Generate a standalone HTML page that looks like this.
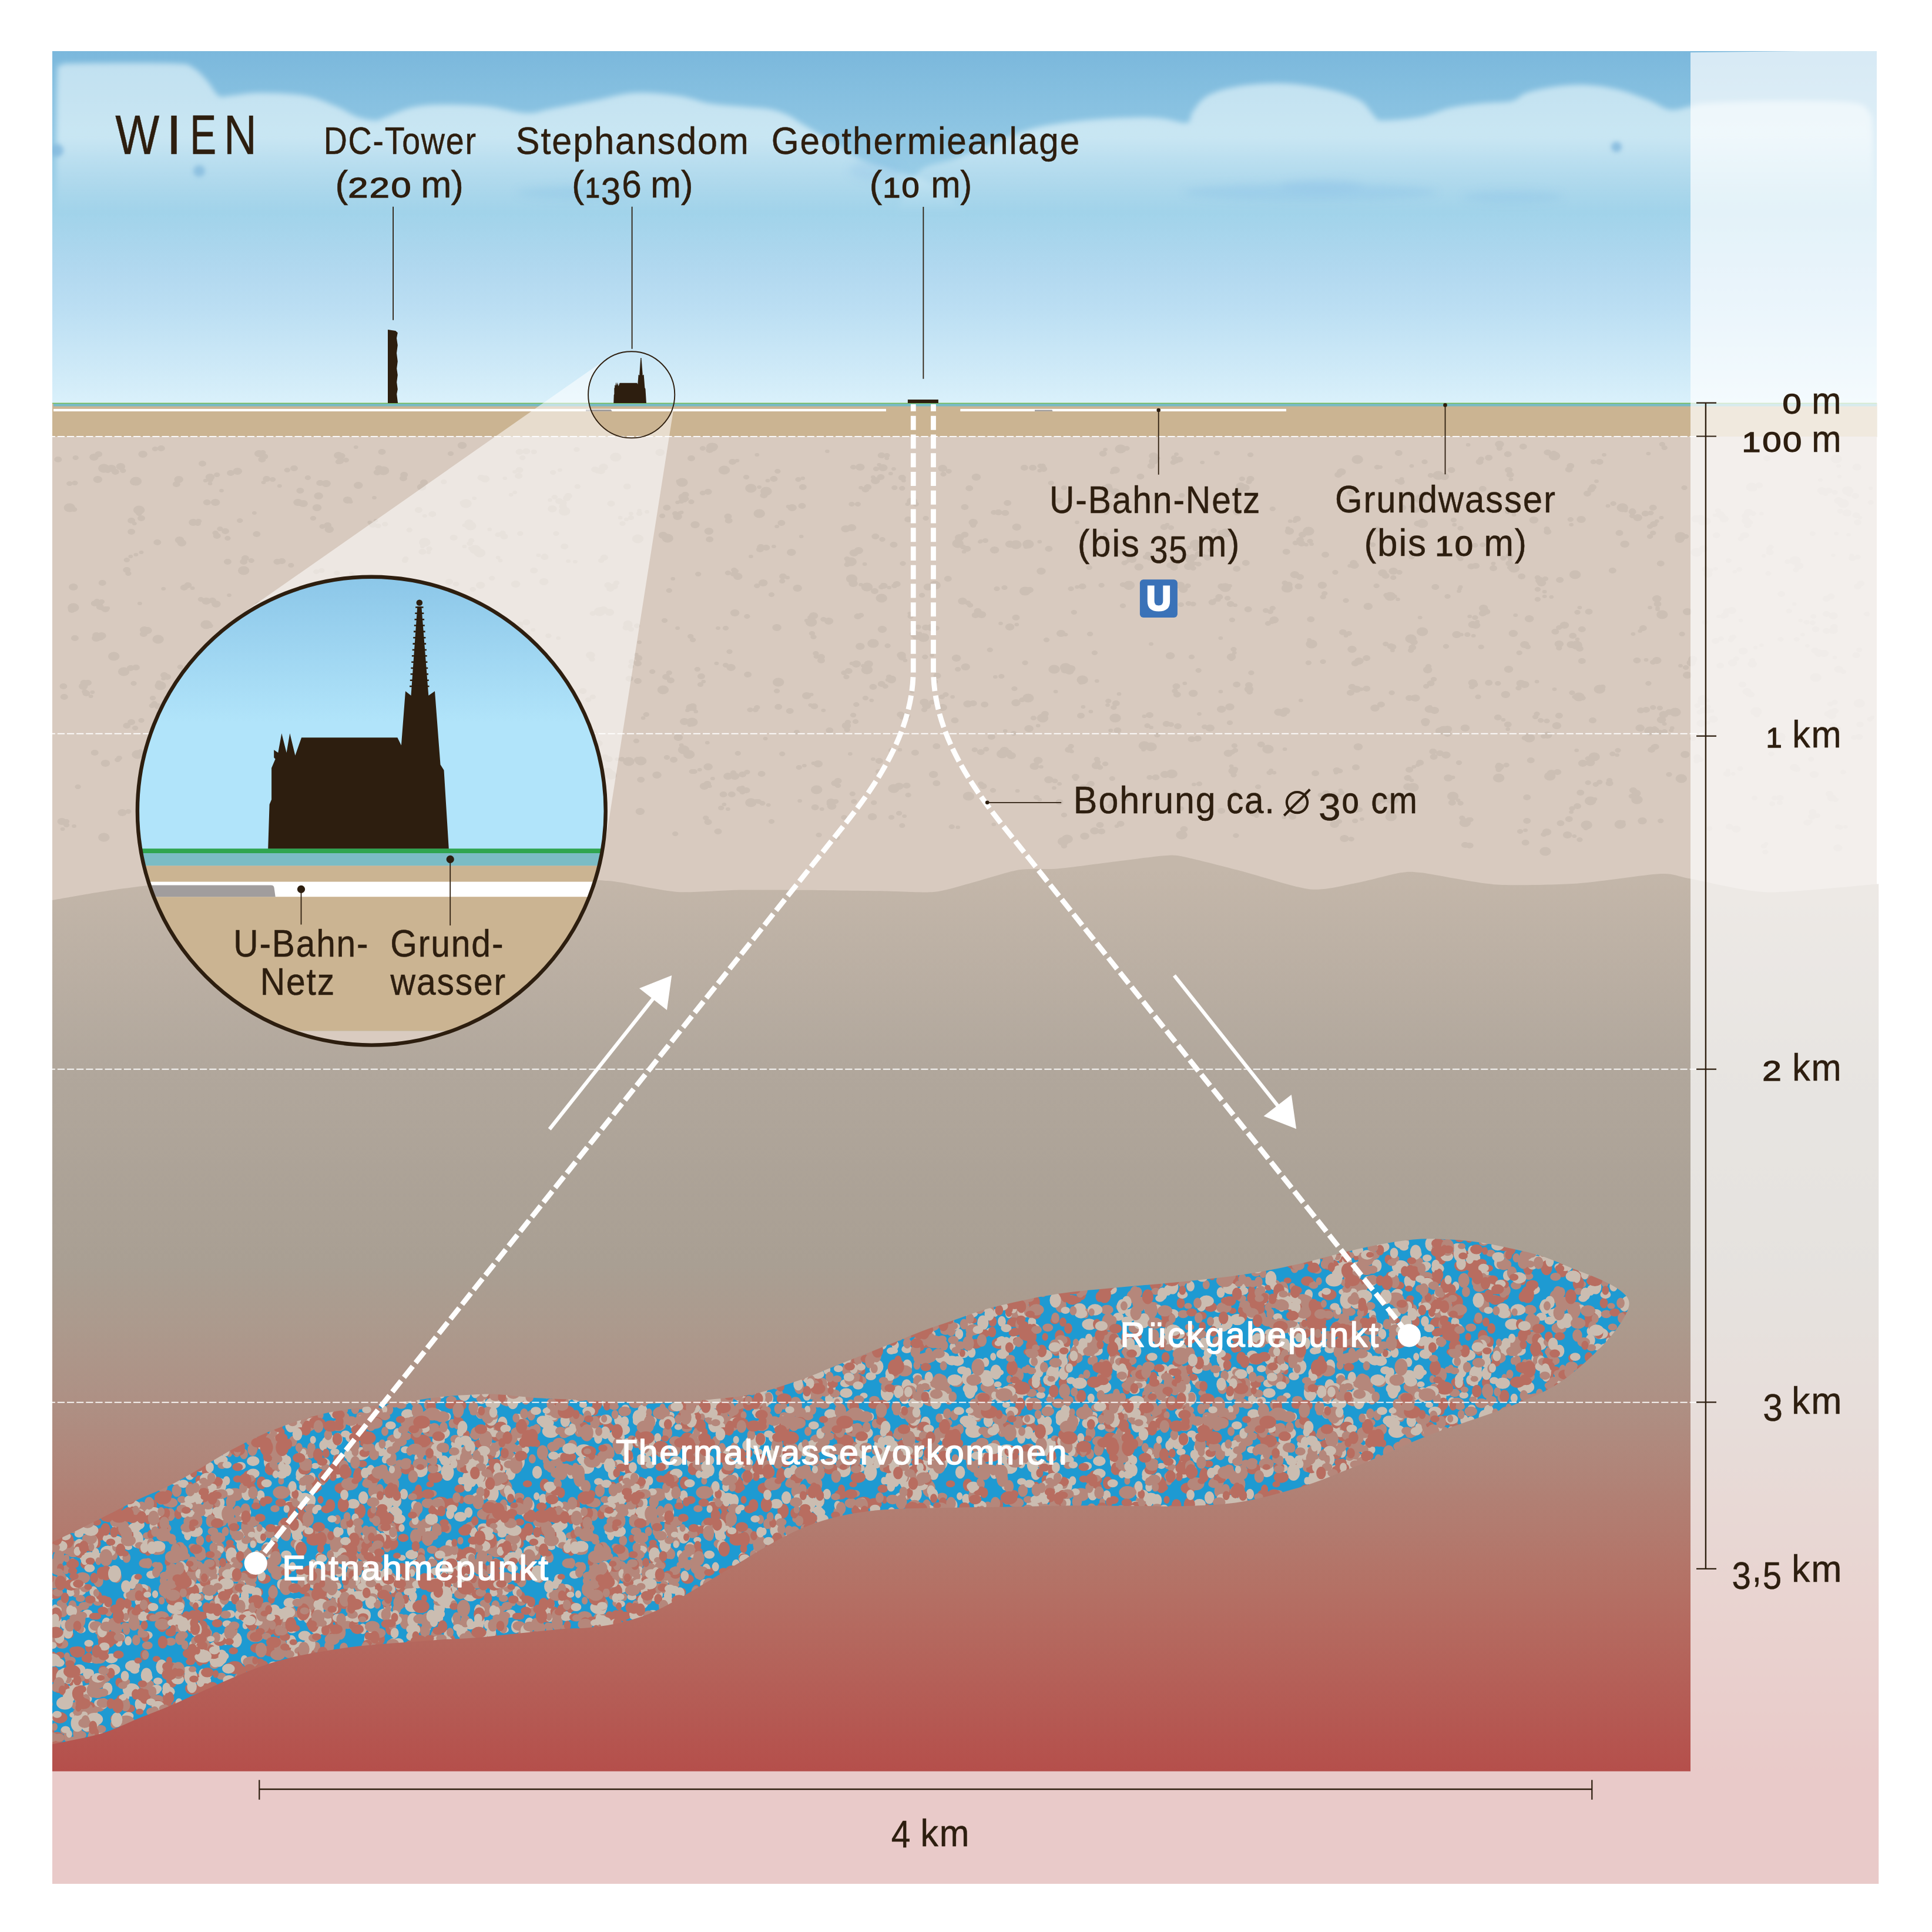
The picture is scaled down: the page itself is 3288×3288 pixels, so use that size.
<!DOCTYPE html>
<html><head><meta charset="utf-8"><title>Geothermie Wien</title><style>html,body{margin:0;padding:0;background:#fff}body{width:3288px;height:3288px;overflow:hidden;font-family:"Liberation Sans",sans-serif}</style></head><body>
<svg width="3288" height="3288" viewBox="0 0 3288 3288" style="display:block;font-family:'Liberation Sans',sans-serif"><defs><linearGradient id="gsky" gradientUnits="userSpaceOnUse" x1="0" y1="87" x2="0" y2="686"><stop offset="0" stop-color="#7bb8dc"/><stop offset=".459" stop-color="#a1d3ea"/><stop offset=".639" stop-color="#b3d9f0"/><stop offset=".741" stop-color="#bcdff3"/><stop offset=".953" stop-color="#d4edf9"/><stop offset="1" stop-color="#daf1fb"/></linearGradient><linearGradient id="gcloud" gradientUnits="userSpaceOnUse" x1="0" y1="100" x2="0" y2="362"><stop offset="0" stop-color="#f6ffff" stop-opacity=".56"/><stop offset=".5076" stop-color="#f6ffff" stop-opacity=".56"/><stop offset="1" stop-color="#f6ffff" stop-opacity="0"/></linearGradient><linearGradient id="gl2" gradientUnits="userSpaceOnUse" x1="0" y1="1480" x2="0" y2="3014"><stop offset="0" stop-color="#c4b7aa"/><stop offset=".2216" stop-color="#b1a79c"/><stop offset=".4368" stop-color="#a99f93"/><stop offset=".5046" stop-color="#ac9a8d"/><stop offset=".5906" stop-color="#ae9084"/><stop offset=".7953" stop-color="#b47165"/><stop offset="1" stop-color="#b54f4b"/></linearGradient><linearGradient id="gbig" gradientUnits="userSpaceOnUse" x1="0" y1="978" x2="0" y2="1230"><stop offset="0" stop-color="#8bc6e8"/><stop offset="1" stop-color="#b1e4fa"/></linearGradient><filter id="fblur" x="-5%" y="-20%" width="110%" height="140%"><feGaussianBlur stdDeviation="5"/></filter><filter id="fblur2" x="-20%" y="-100%" width="140%" height="300%"><feGaussianBlur stdDeviation="7"/></filter><filter id="fblur3" x="-50%" y="-50%" width="200%" height="200%"><feGaussianBlur stdDeviation="3.5"/></filter><clipPath id="cpsky"><rect x="89" y="87" width="3105" height="599"/></clipPath><clipPath id="cpl1"><rect x="89" y="743" width="3105" height="800"/></clipPath><clipPath id="cpframe"><rect x="89" y="87" width="3108.5" height="3119"/></clipPath><clipPath id="cpbig"><circle cx="632.3" cy="1380.2" r="398.4"/></clipPath><pattern id="pres" patternUnits="userSpaceOnUse" x="0" y="0" width="720" height="720"><rect width="720" height="720" fill="#1e9ad2"/><path transform="scale(1.2,0.92)" d="M242 76h0M481 615h0M178 260h0M93 511h0M88 232h0M218 191h0M226 356h0M287 256h0M439 229h0M-10 542h0M590 542h0M205 335h0M224 352h0M25 234h0M179 59h0M235 689h0" stroke="#cbbdb1" stroke-width="11" stroke-linecap="round" fill="none"/><path transform="scale(0.92,1.2)" d="M315 33h0M717 466h0M210 322h0M695 139h0M475 404h0M46 209h0M117 307h0M70 300h0M454 505h0M734 23h0M260 463h0M384 283h0" stroke="#cbbdb1" stroke-width="11" stroke-linecap="round" fill="none"/><path transform="scale(1.2,0.92)" d="M101 199h0M85 630h0M210 504h0M275 693h0M218 66h0M450 604h0M29 351h0M146 453h0M249 393h0M177 9h0M177 792h0M110 3h0M110 785h0M503 290h0M238 129h0M37 536h0M585 127h0M319 206h0M40 362h0M276 233h0M182 52h0M575 334h0M446 585h0M108 60h0M419 432h0M506 602h0M309 152h0M523 373h0M286 324h0M528 74h0M180 621h0M457 190h0M584 593h0M502 539h0M270 433h0" stroke="#cbbdb1" stroke-width="13" stroke-linecap="round" fill="none"/><path transform="scale(0.92,1.2)" d="M558 394h0M558 213h0M642 285h0M434 239h0M424 217h0M145 46h0M447 375h0M140 453h0M537 567h0M258 132h0M452 554h0M414 469h0M294 307h0M-7 216h0M776 216h0M477 141h0M695 472h0M339 436h0M256 471h0M91 108h0M619 199h0M-11 222h0M772 222h0M498 403h0M646 158h0" stroke="#cbbdb1" stroke-width="13" stroke-linecap="round" fill="none"/><path transform="scale(1.2,0.92)" d="M-1 211h0M599 211h0M67 659h0M548 -7h0M548 775h0M437 459h0M285 686h0M35 198h0M560 446h0M381 138h0M86 148h0M588 243h0M177 633h0M529 565h0M441 205h0M414 666h0M428 713h0M135 275h0M343 635h0M165 187h0M197 347h0M277 360h0M487 604h0M475 630h0M166 157h0M252 227h0M124 637h0M14 156h0M41 593h0M386 88h0M403 81h0M265 485h0M473 598h0M93 370h0M554 289h0M483 249h0M238 -0h0M238 782h0M-11 36h0M589 36h0M486 750h0M19 368h0M267 742h0M532 490h0M422 495h0M547 425h0M220 -3h0M220 779h0M575 617h0M1 118h0M601 118h0" stroke="#cbbdb1" stroke-width="15" stroke-linecap="round" fill="none"/><path transform="scale(0.92,1.2)" d="M173 457h0M407 112h0M559 57h0M381 585h0M334 508h0M483 217h0M627 429h0M598 250h0M-9 268h0M774 268h0M222 326h0M399 439h0M157 368h0M602 568h0M440 9h0M440 609h0M569 495h0M91 274h0M228 78h0M7 508h0M789 508h0M314 165h0M529 66h0M671 510h0M113 448h0M464 160h0M591 409h0M705 258h0M228 484h0M60 45h0M42 45h0M236 385h0M73 36h0M338 189h0M392 487h0M536 150h0M232 118h0M93 373h0M698 293h0M542 452h0M520 447h0M135 260h0M213 360h0M58 420h0M693 33h0M506 538h0M344 75h0M401 385h0M648 267h0M112 284h0" stroke="#cbbdb1" stroke-width="15" stroke-linecap="round" fill="none"/><path transform="scale(1.2,0.92)" d="M355 151h0M183 416h0M476 371h0M42 186h0M403 656h0M118 121h0M372 325h0M329 593h0M158 720h0M22 638h0M49 355h0M158 170h0M286 367h0M196 473h0M71 602h0M113 595h0M122 533h0M189 174h0M137 73h0M438 99h0M463 83h0M281 590h0M204 235h0M203 642h0M189 639h0M86 479h0M89 576h0M35 552h0M375 38h0M578 268h0M430 345h0M-0 229h0M600 229h0M392 349h0" stroke="#cbbdb1" stroke-width="18" stroke-linecap="round" fill="none"/><path transform="scale(0.92,1.2)" d="M180 542h0M685 76h0M575 1h0M575 601h0M556 291h0M537 116h0M197 335h0M594 101h0M356 145h0M417 524h0M351 290h0M695 436h0M149 276h0M481 145h0M494 128h0M746 444h0M401 131h0M483 188h0M127 255h0M525 270h0M475 484h0M213 390h0M639 183h0" stroke="#cbbdb1" stroke-width="18" stroke-linecap="round" fill="none"/><path transform="scale(1.2,0.92)" d="M136 162h0M273 456h0M54 359h0M555 93h0M270 170h0M175 284h0M18 269h0M527 -2h0M527 781h0M36 617h0M299 570h0M432 424h0M478 524h0M188 734h0M-4 372h0M596 372h0M160 741h0M67 604h0M38 542h0M247 39h0" stroke="#cbbdb1" stroke-width="21" stroke-linecap="round" fill="none"/><path transform="scale(0.92,1.2)" d="M428 114h0M229 173h0M587 145h0M20 137h0M669 461h0M378 250h0M72 513h0M510 580h0M686 471h0M410 550h0M396 539h0M5 365h0M788 365h0M489 571h0M696 127h0" stroke="#cbbdb1" stroke-width="21" stroke-linecap="round" fill="none"/><path transform="scale(1.2,0.92)" d="M92 20h0M512 341h0M403 645h0M181 300h0M274 311h0M68 384h0M328 602h0M26 303h0M271 431h0" stroke="#cbbdb1" stroke-width="24" stroke-linecap="round" fill="none"/><path transform="scale(0.92,1.2)" d="M46 86h0M500 273h0M510 236h0M751 168h0M697 585h0M550 -8h0M550 592h0M45 288h0M76 175h0M128 318h0" stroke="#cbbdb1" stroke-width="24" stroke-linecap="round" fill="none"/><path transform="scale(1.2,0.92)" d="M366 276h0M582 736h0M296 313h0M201 663h0M539 439h0M203 365h0M501 649h0M267 451h0M335 155h0M505 229h0M465 747h0M418 69h0M126 618h0M430 698h0M261 286h0M234 217h0M502 217h0" stroke="#b5877b" stroke-width="11" stroke-linecap="round" fill="none"/><path transform="scale(0.92,1.2)" d="M288 37h0M387 516h0M759 37h0M521 429h0M227 272h0M474 330h0M41 436h0M597 469h0M443 64h0M584 465h0M170 58h0M118 532h0M520 300h0M719 263h0M195 407h0M180 174h0M435 154h0M527 514h0M302 156h0M386 551h0" stroke="#b5877b" stroke-width="11" stroke-linecap="round" fill="none"/><path transform="scale(1.2,0.92)" d="M319 54h0M108 324h0M304 733h0M314 753h0M567 359h0M69 324h0M50 290h0M269 360h0M443 28h0M104 143h0M128 365h0M294 677h0M446 489h0M167 665h0M68 2h0M68 785h0M209 493h0M263 531h0M568 79h0M436 67h0M432 86h0M368 13h0M368 796h0M512 271h0M516 545h0M493 587h0M406 278h0M84 482h0M481 616h0M484 654h0M235 52h0M334 572h0M278 549h0M84 45h0" stroke="#b5877b" stroke-width="13" stroke-linecap="round" fill="none"/><path transform="scale(0.92,1.2)" d="M248 307h0M-8 476h0M774 476h0M-2 544h0M781 544h0M-12 6h0M-12 606h0M771 6h0M771 606h0M234 383h0M624 355h0M417 372h0M382 327h0M384 535h0M275 -7h0M275 593h0M244 210h0M302 442h0M163 278h0M629 209h0M-8 582h0M774 582h0M-2 54h0M781 54h0M208 405h0M195 541h0M312 68h0M196 515h0M411 343h0M751 449h0M524 520h0M723 562h0M153 118h0M554 178h0M763 427h0M33 473h0M575 262h0M453 209h0M761 96h0M12 269h0M795 269h0M131 136h0M705 444h0M637 409h0M429 182h0M402 343h0M54 219h0M397 247h0M-3 402h0M779 402h0M579 217h0M260 389h0M666 22h0M698 475h0M362 399h0M438 260h0M141 84h0M375 304h0M211 406h0M542 329h0" stroke="#b5877b" stroke-width="13" stroke-linecap="round" fill="none"/><path transform="scale(1.2,0.92)" d="M374 294h0M568 645h0M430 337h0M263 229h0M136 421h0M45 566h0M127 350h0M569 251h0M107 510h0M243 551h0M533 73h0M522 8h0M522 791h0M14 494h0M69 596h0M322 163h0M191 355h0M238 432h0M396 751h0M10 131h0M610 131h0M485 125h0M138 447h0M431 476h0M483 665h0M341 456h0M162 141h0M139 615h0M478 83h0M545 740h0M513 580h0M390 70h0M94 110h0M575 715h0M543 478h0M325 519h0M451 664h0M253 555h0M143 68h0M568 82h0M507 496h0M285 530h0M490 604h0M36 117h0M386 341h0M109 25h0" stroke="#b5877b" stroke-width="15" stroke-linecap="round" fill="none"/><path transform="scale(0.92,1.2)" d="M320 65h0M215 388h0M155 187h0M595 276h0M274 417h0M149 334h0M481 206h0M210 227h0M569 196h0M113 105h0M272 456h0M284 225h0M113 320h0M657 437h0M509 432h0M576 253h0M140 458h0M686 408h0M232 15h0M22 519h0M9 192h0M791 192h0M8 134h0M790 134h0M726 267h0M746 -4h0M746 596h0M27 468h0M583 472h0M469 504h0M724 292h0M621 18h0M685 103h0M720 199h0M-4 286h0M779 286h0M451 262h0M230 278h0M629 144h0M646 435h0M16 252h0M55 400h0M187 520h0M679 445h0M12 110h0M795 110h0M63 78h0M157 98h0M636 537h0M200 207h0M249 305h0M307 135h0M72 167h0M325 507h0M127 360h0M400 418h0M647 365h0M489 420h0M350 499h0M516 260h0" stroke="#b5877b" stroke-width="15" stroke-linecap="round" fill="none"/><path transform="scale(1.2,0.92)" d="M446 135h0M157 209h0M138 2h0M138 784h0M517 531h0M401 367h0M287 397h0M552 569h0M27 52h0M559 211h0M20 206h0M206 544h0M407 653h0M100 330h0M430 465h0M7 28h0M607 28h0M131 138h0M403 169h0M279 548h0M97 519h0M346 635h0M568 319h0M259 76h0M209 372h0M21 55h0M429 180h0M301 248h0M193 321h0M558 315h0M510 179h0M51 253h0M88 693h0M560 247h0M106 98h0M140 27h0M234 479h0M121 345h0M282 521h0" stroke="#b5877b" stroke-width="18" stroke-linecap="round" fill="none"/><path transform="scale(0.92,1.2)" d="M315 348h0M111 178h0M502 208h0M194 86h0M133 159h0M721 375h0M123 225h0M-14 345h0M768 345h0M340 215h0M626 193h0M720 176h0M97 233h0M419 249h0M153 157h0M88 147h0M430 360h0M454 402h0M602 376h0M739 163h0M540 312h0M628 550h0M654 504h0M528 39h0M711 448h0M463 443h0M289 229h0M1 143h0M784 143h0M690 315h0M216 436h0M182 442h0" stroke="#b5877b" stroke-width="18" stroke-linecap="round" fill="none"/><path transform="scale(1.2,0.92)" d="M229 643h0M112 214h0M328 152h0M208 -14h0M208 769h0M405 472h0M428 725h0M201 218h0M107 584h0M223 518h0M185 63h0M106 478h0M434 282h0M87 453h0M366 199h0M11 158h0M611 158h0M501 472h0M51 58h0" stroke="#b5877b" stroke-width="21" stroke-linecap="round" fill="none"/><path transform="scale(0.92,1.2)" d="M750 500h0M664 447h0M84 404h0M627 120h0M318 150h0M413 350h0M103 523h0M733 288h0M111 397h0M686 219h0M289 298h0M91 144h0M74 436h0M703 19h0M687 375h0M356 418h0M392 434h0M262 340h0" stroke="#b5877b" stroke-width="21" stroke-linecap="round" fill="none"/><path transform="scale(1.2,0.92)" d="M95 300h0M247 565h0M238 300h0M47 58h0M443 736h0M528 538h0M333 417h0M138 764h0M362 678h0M418 63h0M383 329h0M11 298h0M611 298h0M90 383h0M222 17h0M399 413h0" stroke="#b5877b" stroke-width="24" stroke-linecap="round" fill="none"/><path transform="scale(0.92,1.2)" d="M153 311h0M529 450h0M458 365h0M149 7h0M149 607h0M256 287h0M8 499h0M791 499h0M614 424h0M622 389h0M336 402h0M104 421h0M352 439h0" stroke="#b5877b" stroke-width="24" stroke-linecap="round" fill="none"/><path transform="scale(1.2,0.92)" d="M548 77h0M288 696h0M26 21h0M228 288h0M307 609h0M7 298h0M607 298h0M284 423h0M460 377h0M301 315h0M200 54h0M369 726h0M196 724h0M222 721h0M345 144h0M224 20h0M237 22h0M-1 34h0M599 34h0M21 486h0M422 204h0M555 148h0M396 153h0M328 57h0" stroke="#b86d60" stroke-width="11" stroke-linecap="round" fill="none"/><path transform="scale(0.92,1.2)" d="M311 381h0M161 582h0M211 247h0M91 362h0M386 382h0M481 458h0M729 460h0M430 396h0M31 512h0M303 77h0M559 126h0M557 341h0M141 99h0M99 444h0M193 232h0M648 432h0M402 0h0M402 600h0M677 10h0M677 610h0" stroke="#b86d60" stroke-width="11" stroke-linecap="round" fill="none"/><path transform="scale(1.2,0.92)" d="M296 95h0M137 468h0M112 139h0M541 412h0M420 283h0M568 592h0M132 442h0M353 731h0M237 426h0M289 425h0M85 714h0M46 90h0M25 450h0M450 660h0M20 295h0M62 550h0M243 132h0M76 758h0M501 579h0M360 331h0M221 449h0M427 440h0M258 153h0M502 651h0M238 741h0M313 593h0" stroke="#b86d60" stroke-width="13" stroke-linecap="round" fill="none"/><path transform="scale(0.92,1.2)" d="M96 129h0M586 200h0M578 542h0M537 582h0M626 201h0M346 341h0M123 354h0M728 366h0M353 510h0M398 558h0M274 400h0M401 75h0M364 580h0M63 209h0M279 376h0M164 537h0M272 481h0M51 347h0M502 468h0M483 478h0M312 267h0M393 347h0M3 575h0M786 575h0M140 583h0M333 433h0M589 217h0M14 251h0M796 251h0M732 320h0M82 555h0" stroke="#b86d60" stroke-width="13" stroke-linecap="round" fill="none"/><path transform="scale(1.2,0.92)" d="M349 465h0M576 372h0M565 466h0M264 111h0M95 344h0M426 263h0M184 30h0M127 25h0M518 322h0M69 107h0M39 39h0M560 751h0M21 669h0M475 121h0M368 271h0M379 427h0M381 158h0M455 533h0M453 3h0M453 786h0M215 644h0M263 292h0M168 713h0M237 416h0M198 627h0M283 712h0M504 86h0M14 366h0M-6 496h0M594 496h0M406 559h0M543 441h0M337 547h0M70 584h0M500 574h0M105 311h0M581 212h0M115 138h0M68 694h0M445 271h0M81 324h0M65 702h0M572 497h0" stroke="#b86d60" stroke-width="15" stroke-linecap="round" fill="none"/><path transform="scale(0.92,1.2)" d="M507 220h0M303 45h0M604 430h0M716 477h0M136 276h0M401 161h0M519 170h0M588 576h0M98 550h0M643 288h0M621 -11h0M621 589h0M223 11h0M223 611h0M370 555h0M534 481h0M595 151h0M124 178h0M41 53h0M269 472h0M243 486h0M469 39h0M345 57h0M116 317h0M75 77h0M636 142h0M135 279h0M408 103h0M252 341h0M425 396h0M619 48h0M255 317h0M283 334h0M179 331h0M609 504h0M145 588h0M622 276h0M267 547h0M411 84h0M495 197h0" stroke="#b86d60" stroke-width="15" stroke-linecap="round" fill="none"/><path transform="scale(1.2,0.92)" d="M369 318h0M208 347h0M133 494h0M238 98h0M368 491h0M312 688h0M10 686h0M610 686h0M364 701h0M459 22h0M267 209h0M210 624h0M250 280h0M268 711h0M-8 417h0M592 417h0M578 135h0M78 601h0M488 600h0M538 594h0M534 537h0M526 530h0M375 573h0" stroke="#b86d60" stroke-width="18" stroke-linecap="round" fill="none"/><path transform="scale(0.92,1.2)" d="M703 524h0M722 510h0M484 303h0M519 256h0M517 152h0M717 13h0M389 114h0M412 208h0M735 542h0M435 35h0M471 565h0M559 351h0M245 194h0M222 522h0M513 512h0M479 -1h0M479 599h0M380 520h0M625 161h0M45 457h0M29 404h0M395 95h0M590 444h0M108 -8h0M108 592h0M140 574h0M662 293h0M22 157h0M429 414h0M623 480h0M438 254h0M751 40h0M51 527h0" stroke="#b86d60" stroke-width="18" stroke-linecap="round" fill="none"/><path transform="scale(1.2,0.92)" d="M51 754h0M445 501h0M383 706h0M485 405h0M587 666h0M302 54h0M417 706h0M22 60h0M18 446h0M586 283h0" stroke="#b86d60" stroke-width="21" stroke-linecap="round" fill="none"/><path transform="scale(0.92,1.2)" d="M126 385h0M474 585h0M373 537h0M190 538h0M685 398h0M572 20h0M78 585h0M300 504h0M511 499h0M668 225h0M15 110h0M798 110h0M666 343h0M111 377h0M583 307h0M497 263h0M138 584h0M90 56h0" stroke="#b86d60" stroke-width="21" stroke-linecap="round" fill="none"/><path transform="scale(1.2,0.92)" d="M257 566h0M553 508h0M442 3h0M442 785h0M151 689h0M516 508h0M25 433h0M176 482h0M257 349h0" stroke="#b86d60" stroke-width="24" stroke-linecap="round" fill="none"/><path transform="scale(0.92,1.2)" d="M109 384h0M300 356h0M80 67h0M478 36h0M499 507h0M562 449h0" stroke="#b86d60" stroke-width="24" stroke-linecap="round" fill="none"/><path transform="scale(1.2,0.92)" d="M132 508h0M430 480h0M68 151h0M389 501h0M558 48h0M550 625h0M336 133h0M104 42h0M178 269h0M185 274h0M472 181h0M442 71h0M95 296h0M182 514h0M224 302h0M215 213h0M483 132h0M88 17h0M79 -7h0M79 775h0" stroke="#cbbdb1" stroke-width="11" stroke-linecap="round" fill="none"/><path transform="scale(0.92,1.2)" d="M316 44h0M276 62h0M354 191h0M197 110h0M67 440h0M40 554h0M542 314h0M272 124h0M225 62h0M561 260h0M580 556h0M711 199h0M401 427h0M762 431h0M579 242h0M16 413h0M147 285h0M685 148h0M712 270h0" stroke="#cbbdb1" stroke-width="11" stroke-linecap="round" fill="none"/><path transform="scale(1.2,0.92)" d="M299 464h0M508 624h0M325 279h0M22 646h0M155 106h0M575 86h0M64 151h0M9 103h0M609 103h0M579 597h0M512 277h0M76 46h0M296 606h0M191 742h0M286 671h0M130 722h0M8 157h0M608 157h0M322 656h0M370 699h0M411 -5h0M411 778h0M28 57h0M260 597h0M424 419h0M132 37h0M350 270h0M517 722h0M490 305h0M-11 184h0M589 184h0M104 753h0M519 546h0M482 356h0" stroke="#cbbdb1" stroke-width="13" stroke-linecap="round" fill="none"/><path transform="scale(0.92,1.2)" d="M384 584h0M556 492h0M220 529h0M347 378h0M718 145h0M569 13h0M183 164h0M128 16h0M510 369h0M560 309h0M276 225h0M688 514h0M541 422h0M387 141h0M59 497h0M301 63h0M602 245h0M446 352h0M458 345h0M191 65h0M737 448h0M181 465h0M353 316h0M402 271h0M225 146h0M193 74h0M4 254h0M786 254h0M316 57h0M130 457h0M738 128h0M179 238h0M656 382h0M431 418h0M23 54h0M551 -8h0M551 592h0M747 143h0M451 439h0M231 37h0M45 518h0M-12 511h0M771 511h0M334 270h0M767 335h0M386 313h0M339 447h0M119 504h0" stroke="#cbbdb1" stroke-width="13" stroke-linecap="round" fill="none"/><path transform="scale(1.2,0.92)" d="M93 218h0M4 199h0M604 199h0M202 509h0M215 565h0M540 433h0M270 455h0M305 282h0M18 343h0M48 354h0M258 108h0M533 518h0M563 450h0M99 468h0M133 58h0M203 590h0M217 625h0M310 682h0M155 557h0M166 501h0M244 236h0M317 445h0M346 594h0M326 638h0M335 594h0M410 436h0M442 282h0M205 116h0M270 159h0M227 109h0M477 47h0M423 720h0M529 598h0M288 340h0M481 -12h0M481 771h0M182 44h0M-2 376h0M598 376h0M18 559h0M130 40h0M127 218h0M467 313h0M451 239h0M126 747h0M563 40h0M505 759h0M341 364h0M148 698h0M498 186h0M223 452h0M209 677h0" stroke="#cbbdb1" stroke-width="15" stroke-linecap="round" fill="none"/><path transform="scale(0.92,1.2)" d="M482 321h0M693 331h0M749 568h0M310 457h0M23 37h0M241 200h0M274 290h0M373 216h0M49 391h0M410 218h0M338 89h0M401 121h0M665 129h0M436 115h0M710 179h0M584 7h0M584 607h0M716 262h0M484 435h0M751 184h0M332 61h0M644 463h0M384 432h0M324 275h0M157 314h0M579 492h0M316 231h0M324 240h0M618 204h0M39 436h0M702 47h0M486 495h0M137 97h0M764 464h0M747 319h0" stroke="#cbbdb1" stroke-width="15" stroke-linecap="round" fill="none"/><path transform="scale(1.2,0.92)" d="M432 678h0M26 145h0M266 109h0M178 81h0M459 358h0M566 462h0M184 603h0M7 55h0M607 55h0M306 582h0M499 312h0M71 372h0M256 39h0M564 -3h0M564 780h0M190 437h0M585 666h0M553 325h0M40 154h0M48 563h0M18 586h0M141 534h0M512 579h0M22 316h0M584 128h0M407 81h0M107 400h0M501 434h0M384 141h0M50 736h0" stroke="#cbbdb1" stroke-width="18" stroke-linecap="round" fill="none"/><path transform="scale(0.92,1.2)" d="M161 320h0M406 201h0M223 155h0M296 105h0M494 396h0M113 137h0M67 105h0M393 4h0M393 604h0M337 232h0M711 153h0M288 104h0M147 218h0M677 491h0M263 215h0M405 212h0M408 315h0M625 241h0M211 288h0M15 492h0M797 492h0M519 47h0M492 495h0M46 407h0M-0 127h0M783 127h0M112 270h0M629 168h0M539 528h0M475 460h0M715 2h0M715 602h0M106 203h0M555 537h0M575 328h0" stroke="#cbbdb1" stroke-width="18" stroke-linecap="round" fill="none"/><path transform="scale(1.2,0.92)" d="M232 368h0M116 446h0M185 202h0M198 197h0M585 624h0M510 636h0M282 159h0M50 579h0M153 522h0M470 119h0M120 362h0M345 102h0M140 334h0M99 248h0M85 512h0M395 638h0M486 611h0" stroke="#cbbdb1" stroke-width="21" stroke-linecap="round" fill="none"/><path transform="scale(0.92,1.2)" d="M119 576h0M396 5h0M396 605h0M548 542h0M253 76h0M407 471h0M260 17h0M538 221h0M501 204h0M563 437h0M653 473h0M33 443h0M30 480h0M437 526h0M398 554h0M366 324h0M534 499h0M284 178h0M110 302h0M299 564h0M258 350h0M271 576h0M387 298h0M383 341h0M147 393h0" stroke="#cbbdb1" stroke-width="21" stroke-linecap="round" fill="none"/><path transform="scale(1.2,0.92)" d="M562 746h0M364 218h0M338 142h0M59 554h0M186 -4h0M186 778h0M217 452h0M228 336h0" stroke="#cbbdb1" stroke-width="24" stroke-linecap="round" fill="none"/><path transform="scale(0.92,1.2)" d="M548 366h0M253 383h0M315 44h0M618 563h0M405 552h0M503 192h0M115 244h0" stroke="#cbbdb1" stroke-width="24" stroke-linecap="round" fill="none"/><path transform="scale(1.2,0.92)" d="M217 468h0M124 379h0M104 625h0M112 628h0M135 33h0M31 334h0M45 53h0M509 277h0M339 78h0M140 671h0M239 349h0M376 543h0M358 584h0" stroke="#b5877b" stroke-width="11" stroke-linecap="round" fill="none"/><path transform="scale(0.92,1.2)" d="M593 207h0M664 429h0M607 423h0M130 294h0M424 261h0M659 407h0M473 133h0M19 359h0M22 369h0M519 131h0M124 549h0M604 146h0M134 415h0M169 174h0M449 239h0M596 -3h0M596 597h0M459 133h0M585 450h0M507 415h0M702 389h0" stroke="#b5877b" stroke-width="11" stroke-linecap="round" fill="none"/><path transform="scale(1.2,0.92)" d="M315 469h0M581 7h0M581 790h0M397 215h0M124 378h0M520 271h0M462 367h0M114 609h0M127 93h0M312 330h0M186 359h0M65 697h0M362 674h0M570 229h0M92 71h0M127 206h0M309 409h0M74 126h0M198 511h0M30 328h0M246 734h0M366 547h0M132 758h0M234 32h0M561 54h0M487 107h0M498 516h0M474 218h0M261 584h0M60 27h0" stroke="#b5877b" stroke-width="13" stroke-linecap="round" fill="none"/><path transform="scale(0.92,1.2)" d="M311 500h0M144 85h0M49 119h0M130 278h0M716 395h0M422 124h0M152 92h0M110 295h0M348 131h0M50 515h0M381 525h0M674 74h0M343 116h0M508 288h0M267 162h0M119 469h0M57 476h0M553 253h0M102 -7h0M102 593h0M590 562h0M616 118h0M122 426h0M211 45h0M369 202h0M200 434h0M730 441h0M106 170h0M83 519h0M527 507h0M357 335h0M-5 247h0M777 247h0M472 377h0M292 231h0M572 309h0M15 550h0M797 550h0M506 232h0" stroke="#b5877b" stroke-width="13" stroke-linecap="round" fill="none"/><path transform="scale(1.2,0.92)" d="M59 207h0M302 485h0M141 114h0M476 516h0M576 357h0M234 567h0M383 372h0M514 586h0M486 261h0M13 94h0M371 258h0M524 185h0M121 590h0M425 706h0M546 272h0M315 242h0M378 623h0M528 607h0M550 386h0M242 689h0M556 335h0M480 162h0M260 330h0M142 722h0M149 757h0M119 623h0M555 191h0M440 627h0M22 615h0M320 639h0M502 214h0M121 333h0M291 349h0M576 309h0M55 368h0M41 355h0M577 168h0M319 560h0M336 549h0M13 519h0M463 764h0M100 724h0M531 462h0M378 516h0M471 677h0M462 670h0M255 664h0M118 384h0M535 270h0M322 551h0M357 130h0M472 252h0M392 344h0M393 351h0M23 111h0M27 102h0" stroke="#b5877b" stroke-width="15" stroke-linecap="round" fill="none"/><path transform="scale(0.92,1.2)" d="M43 133h0M671 392h0M301 44h0M718 315h0M371 436h0M370 385h0M132 126h0M302 230h0M47 -2h0M47 598h0M400 522h0M558 170h0M512 428h0M142 488h0M45 75h0M458 214h0M460 440h0M728 378h0M597 504h0M218 78h0M700 151h0M358 495h0M45 367h0M585 536h0M468 438h0M125 63h0M558 220h0M726 505h0M201 485h0M382 18h0M481 135h0M701 204h0M-5 262h0M778 262h0M432 513h0M236 313h0M734 482h0M396 13h0M215 517h0M540 33h0M289 430h0M97 518h0M2 63h0M785 63h0M439 343h0M131 103h0M542 244h0M733 252h0M298 397h0M347 358h0M639 182h0M439 30h0M657 198h0M435 453h0M360 423h0" stroke="#b5877b" stroke-width="15" stroke-linecap="round" fill="none"/><path transform="scale(1.2,0.92)" d="M282 443h0M323 35h0M251 644h0M384 324h0M405 208h0M94 335h0M100 116h0M289 665h0M441 443h0M243 81h0M-2 97h0M598 97h0M118 244h0M380 648h0M114 44h0M382 519h0M421 508h0M104 524h0M345 152h0M433 359h0M76 515h0M311 20h0M305 131h0M438 291h0M53 601h0M60 111h0M530 709h0M502 120h0M370 75h0M240 603h0M7 328h0M607 328h0M474 581h0M82 674h0" stroke="#b5877b" stroke-width="18" stroke-linecap="round" fill="none"/><path transform="scale(0.92,1.2)" d="M327 314h0M232 18h0M295 49h0M298 325h0M194 332h0M392 428h0M322 78h0M65 268h0M638 212h0M93 196h0M-7 566h0M776 566h0M539 487h0M685 443h0M609 535h0M695 550h0M690 399h0M481 411h0M78 499h0M734 328h0M508 250h0M235 322h0M621 581h0M345 260h0M84 447h0M680 542h0M574 464h0M449 5h0M449 605h0M332 266h0M607 381h0M190 183h0M354 428h0M675 444h0M162 48h0M130 354h0M164 383h0M299 231h0M406 396h0M351 460h0" stroke="#b5877b" stroke-width="18" stroke-linecap="round" fill="none"/><path transform="scale(1.2,0.92)" d="M457 248h0M134 442h0M316 461h0M208 230h0M274 555h0M437 218h0M8 205h0M608 205h0M218 277h0M355 727h0M123 35h0M528 661h0M411 109h0M542 13h0M542 796h0M122 104h0M266 248h0M115 164h0M403 253h0M232 493h0M180 112h0M567 72h0M325 164h0M83 188h0M579 285h0" stroke="#b5877b" stroke-width="21" stroke-linecap="round" fill="none"/><path transform="scale(0.92,1.2)" d="M635 121h0M25 28h0M553 196h0M360 16h0M652 430h0M-13 379h0M769 379h0M102 270h0M723 369h0M140 100h0M116 483h0M25 81h0M570 354h0M9 382h0M791 382h0M397 51h0M488 505h0M66 51h0M620 147h0M498 131h0M364 357h0M229 367h0M109 409h0" stroke="#b5877b" stroke-width="21" stroke-linecap="round" fill="none"/><path transform="scale(1.2,0.92)" d="M179 55h0M375 127h0M191 264h0M465 595h0" stroke="#b5877b" stroke-width="24" stroke-linecap="round" fill="none"/><path transform="scale(0.92,1.2)" d="M727 549h0M485 75h0M689 193h0M196 409h0M582 174h0M287 289h0M458 108h0M416 431h0" stroke="#b5877b" stroke-width="24" stroke-linecap="round" fill="none"/><path transform="scale(1.2,0.92)" d="M366 117h0M129 437h0M456 609h0M549 621h0M365 -9h0M365 774h0M544 604h0M532 680h0M387 489h0M-6 541h0M594 541h0M365 41h0M333 662h0M569 622h0M460 87h0M100 111h0M485 7h0M485 789h0M326 537h0M301 400h0M549 512h0M128 517h0" stroke="#b86d60" stroke-width="11" stroke-linecap="round" fill="none"/><path transform="scale(0.92,1.2)" d="M321 74h0M568 464h0M469 17h0M59 88h0M519 129h0M362 501h0M737 367h0M71 327h0M2 467h0M785 467h0M313 555h0M596 175h0M310 415h0M183 463h0M487 26h0M30 144h0M593 327h0M505 453h0" stroke="#b86d60" stroke-width="11" stroke-linecap="round" fill="none"/><path transform="scale(1.2,0.92)" d="M-10 62h0M590 62h0M521 511h0M270 726h0M419 664h0M356 402h0M148 397h0M99 730h0M239 205h0M331 706h0M576 566h0M391 646h0M256 656h0M369 670h0M570 550h0M538 466h0M133 642h0M290 560h0M44 624h0M30 469h0M342 616h0M137 642h0M85 269h0M316 574h0M586 282h0M514 360h0M362 247h0M33 718h0" stroke="#b86d60" stroke-width="13" stroke-linecap="round" fill="none"/><path transform="scale(0.92,1.2)" d="M487 330h0M301 61h0M162 325h0M70 91h0M245 343h0M700 354h0M102 261h0M766 236h0M274 355h0M724 159h0M340 194h0M314 331h0M760 283h0M750 30h0M180 389h0M72 429h0M368 299h0M213 525h0M412 416h0M89 60h0M588 76h0M380 287h0M400 336h0M420 129h0M13 99h0M795 99h0M757 62h0M260 267h0M651 434h0M394 247h0M750 468h0M80 235h0" stroke="#b86d60" stroke-width="13" stroke-linecap="round" fill="none"/><path transform="scale(1.2,0.92)" d="M563 76h0M205 519h0M539 162h0M243 50h0M517 340h0M405 467h0M396 482h0M405 187h0M452 -15h0M452 767h0M266 145h0M291 580h0M97 676h0M74 693h0M570 557h0M535 281h0M289 9h0M289 792h0M242 672h0M52 406h0M405 737h0M490 80h0M196 119h0M23 589h0M353 636h0M317 19h0M279 719h0M476 676h0M444 390h0M240 650h0M175 646h0M494 616h0M294 366h0M280 519h0M60 370h0M50 281h0M240 116h0M470 173h0M358 565h0M398 432h0M554 128h0M44 561h0M270 216h0M301 -12h0M301 771h0M164 48h0M104 122h0M418 268h0M80 323h0M56 734h0" stroke="#b86d60" stroke-width="15" stroke-linecap="round" fill="none"/><path transform="scale(0.92,1.2)" d="M734 67h0M379 553h0M579 218h0M268 471h0M593 464h0M146 341h0M719 111h0M347 108h0M732 162h0M749 41h0M174 438h0M307 346h0M351 309h0M330 347h0M323 43h0M528 508h0M309 50h0M365 490h0M82 565h0M236 474h0M591 125h0M731 444h0M490 254h0M613 495h0M473 489h0M687 346h0M568 153h0M340 109h0M77 481h0M-4 409h0M778 409h0M640 396h0M269 521h0M205 573h0M151 82h0M270 89h0M471 157h0M164 551h0M113 443h0M464 78h0M510 402h0M698 584h0" stroke="#b86d60" stroke-width="15" stroke-linecap="round" fill="none"/><path transform="scale(1.2,0.92)" d="M189 410h0M374 287h0M110 291h0M456 88h0M102 144h0M54 22h0M399 248h0M98 470h0M103 545h0M-7 162h0M593 162h0M11 696h0M611 696h0M303 712h0M452 477h0M331 28h0M373 29h0M438 488h0M70 548h0M250 591h0M412 439h0M507 713h0M272 551h0M110 469h0M517 70h0M327 737h0M290 672h0M184 138h0M123 546h0M260 597h0" stroke="#b86d60" stroke-width="18" stroke-linecap="round" fill="none"/><path transform="scale(0.92,1.2)" d="M225 306h0M469 94h0M150 297h0M566 227h0M638 97h0M406 38h0M67 405h0M322 191h0M186 376h0M362 116h0M36 507h0M713 383h0M19 131h0M261 3h0M261 603h0M15 195h0M435 180h0M633 471h0M462 500h0M188 431h0M695 445h0M649 410h0M310 7h0M310 607h0M731 126h0M216 354h0M223 475h0M418 27h0M302 368h0M124 217h0M345 494h0M495 100h0M693 5h0M693 605h0M499 283h0M610 451h0" stroke="#b86d60" stroke-width="18" stroke-linecap="round" fill="none"/><path transform="scale(1.2,0.92)" d="M273 -6h0M273 776h0M17 385h0M40 434h0M300 628h0M198 598h0M512 240h0M259 53h0M352 209h0M85 47h0M35 -10h0M35 772h0M103 368h0M217 137h0M81 84h0M337 335h0M113 112h0M117 37h0M36 71h0" stroke="#b86d60" stroke-width="21" stroke-linecap="round" fill="none"/><path transform="scale(0.92,1.2)" d="M459 296h0M22 122h0M147 399h0M631 577h0M548 206h0M342 95h0M594 383h0M727 314h0M422 453h0M476 580h0M331 578h0M466 502h0M705 348h0M586 490h0M307 140h0M357 494h0M318 583h0M688 419h0M196 431h0" stroke="#b86d60" stroke-width="21" stroke-linecap="round" fill="none"/><path transform="scale(1.2,0.92)" d="M249 220h0M291 -5h0M291 778h0M547 461h0M65 101h0M351 389h0" stroke="#b86d60" stroke-width="24" stroke-linecap="round" fill="none"/><path transform="scale(0.92,1.2)" d="M481 142h0M637 470h0" stroke="#b86d60" stroke-width="24" stroke-linecap="round" fill="none"/><path transform="scale(1.2,0.92)" d="M491 438h0M216 137h0M38 171h0M315 33h0M270 203h0M299 684h0M362 292h0M451 441h0M472 265h0M570 534h0M83 244h0M180 647h0M227 251h0M309 348h0M174 10h0M174 793h0" stroke="#cbbdb1" stroke-width="11" stroke-linecap="round" fill="none"/><path transform="scale(0.92,1.2)" d="M-2 17h0M781 17h0M30 263h0M153 347h0M287 461h0M393 20h0M410 344h0M91 393h0M307 570h0M583 342h0M307 262h0M727 440h0M22 463h0M630 372h0M128 59h0M510 291h0M160 15h0" stroke="#cbbdb1" stroke-width="11" stroke-linecap="round" fill="none"/><path transform="scale(1.2,0.92)" d="M267 438h0M438 484h0M513 587h0M505 647h0M422 290h0M101 304h0M233 144h0M526 526h0M335 267h0M113 232h0M59 335h0M422 615h0M115 667h0M476 144h0M325 412h0M210 755h0M30 68h0M39 60h0M12 88h0M253 632h0M548 444h0M466 144h0M224 762h0M366 653h0M384 644h0M475 338h0" stroke="#cbbdb1" stroke-width="13" stroke-linecap="round" fill="none"/><path transform="scale(0.92,1.2)" d="M312 34h0M177 402h0M102 482h0M87 502h0M123 307h0M521 280h0M55 97h0M77 558h0M323 61h0M365 256h0M546 157h0M649 457h0M379 182h0M341 346h0M237 527h0M-9 44h0M773 44h0M409 456h0M368 432h0M419 300h0M169 236h0M594 88h0M345 24h0M596 474h0M136 293h0M227 406h0M423 246h0M8 23h0M791 23h0M457 127h0M245 447h0M657 353h0M561 330h0M342 424h0M441 490h0M503 103h0M643 263h0M577 295h0" stroke="#cbbdb1" stroke-width="13" stroke-linecap="round" fill="none"/><path transform="scale(1.2,0.92)" d="M153 498h0M310 519h0M170 680h0M533 423h0M20 41h0M160 262h0M106 -6h0M106 776h0M456 535h0M93 494h0M365 483h0M109 453h0M531 156h0M55 349h0M32 356h0M260 397h0M398 95h0M34 687h0M437 766h0M393 715h0M409 224h0M317 716h0M80 630h0M526 612h0M419 718h0M187 112h0M481 718h0M389 628h0M107 379h0M141 20h0M378 396h0M388 733h0M413 743h0M20 686h0M477 601h0M565 690h0M47 323h0M115 46h0" stroke="#cbbdb1" stroke-width="15" stroke-linecap="round" fill="none"/><path transform="scale(0.92,1.2)" d="M371 585h0M730 516h0M658 441h0M192 16h0M398 244h0M25 464h0M126 581h0M50 347h0M707 381h0M512 152h0M284 364h0M250 440h0M351 161h0M142 165h0M431 430h0M80 148h0M87 -12h0M87 588h0M356 324h0M153 153h0M364 243h0M351 156h0M83 308h0M543 222h0M309 55h0M361 214h0M341 335h0M263 214h0M731 491h0M686 285h0M254 350h0M503 130h0M669 119h0M375 574h0M555 563h0M369 307h0M157 412h0" stroke="#cbbdb1" stroke-width="15" stroke-linecap="round" fill="none"/><path transform="scale(1.2,0.92)" d="M560 194h0M78 422h0M222 157h0M53 458h0M12 461h0M111 214h0M451 668h0M420 417h0M180 402h0M313 456h0M259 278h0M585 679h0M136 165h0M253 649h0M362 105h0M333 82h0M386 180h0M411 617h0M150 169h0M277 297h0M523 590h0M314 353h0M201 208h0M417 212h0M584 528h0M359 378h0M379 767h0M239 -1h0M239 781h0M511 -3h0M511 779h0M462 574h0M310 448h0" stroke="#cbbdb1" stroke-width="18" stroke-linecap="round" fill="none"/><path transform="scale(0.92,1.2)" d="M718 331h0M657 51h0M553 393h0M402 148h0M442 380h0M332 90h0M224 392h0M672 324h0M549 376h0M425 -9h0M425 591h0M609 164h0M60 138h0M162 290h0M569 538h0M105 499h0M172 507h0M566 487h0M456 319h0M112 165h0M710 441h0M541 76h0M633 404h0M394 109h0M395 313h0M336 423h0M590 486h0M602 144h0M651 371h0M662 106h0M729 305h0M652 254h0M73 224h0M354 505h0M126 515h0" stroke="#cbbdb1" stroke-width="18" stroke-linecap="round" fill="none"/><path transform="scale(1.2,0.92)" d="M545 36h0M431 568h0M277 485h0M345 285h0M230 140h0M302 639h0M511 59h0M460 649h0M294 387h0M570 722h0M224 513h0M29 588h0M42 88h0M38 530h0M546 638h0M353 75h0M321 582h0" stroke="#cbbdb1" stroke-width="21" stroke-linecap="round" fill="none"/><path transform="scale(0.92,1.2)" d="M764 498h0M171 387h0M387 44h0M408 307h0M146 365h0M705 75h0M62 257h0M512 141h0M684 525h0M623 182h0M277 146h0M487 -10h0M487 590h0M86 253h0" stroke="#cbbdb1" stroke-width="21" stroke-linecap="round" fill="none"/><path transform="scale(1.2,0.92)" d="M476 375h0M249 626h0M353 644h0M346 618h0" stroke="#cbbdb1" stroke-width="24" stroke-linecap="round" fill="none"/><path transform="scale(0.92,1.2)" d="M353 578h0M128 3h0M128 603h0M382 149h0M482 377h0M176 273h0M-4 283h0M778 283h0M126 210h0M102 293h0M679 440h0" stroke="#cbbdb1" stroke-width="24" stroke-linecap="round" fill="none"/><path transform="scale(1.2,0.92)" d="M142 214h0M448 254h0M335 592h0M-5 49h0M595 49h0M556 698h0M48 584h0M269 145h0M389 238h0M443 624h0M558 244h0M404 658h0M221 547h0M511 254h0M328 520h0M83 120h0M277 223h0M485 68h0M245 504h0M557 27h0M72 265h0M299 383h0M114 349h0" stroke="#b5877b" stroke-width="11" stroke-linecap="round" fill="none"/><path transform="scale(0.92,1.2)" d="M425 104h0M364 349h0M452 130h0M336 141h0M277 -6h0M277 594h0M455 118h0M-6 200h0M777 200h0M108 94h0M718 482h0M393 475h0M480 367h0M359 527h0M69 385h0M645 483h0M282 280h0M-8 252h0M775 252h0M123 410h0M766 189h0M730 587h0M691 341h0M546 54h0M454 61h0M726 240h0M616 471h0M337 523h0M169 394h0M372 465h0M2 220h0M785 220h0M10 544h0M792 544h0M182 414h0M583 460h0M43 25h0" stroke="#b5877b" stroke-width="11" stroke-linecap="round" fill="none"/><path transform="scale(1.2,0.92)" d="M258 426h0M355 387h0M17 186h0M13 415h0M100 272h0M218 645h0M585 421h0M16 49h0M9 120h0M609 120h0M178 763h0M63 30h0M436 357h0M470 746h0M423 638h0M178 660h0M20 487h0M548 617h0M559 733h0M170 644h0M588 139h0M49 655h0M16 291h0M5 275h0M605 275h0M410 193h0M543 368h0M255 511h0M482 731h0M-11 136h0M589 136h0M439 41h0M200 306h0M560 233h0M372 755h0M315 363h0M479 349h0M113 105h0M87 618h0M94 438h0M136 129h0M67 474h0M-3 317h0M597 317h0M289 392h0M78 746h0M587 203h0M309 587h0M390 443h0" stroke="#b5877b" stroke-width="13" stroke-linecap="round" fill="none"/><path transform="scale(0.92,1.2)" d="M459 129h0M145 181h0M175 175h0M152 250h0M758 258h0M239 253h0M131 114h0M19 153h0M150 20h0M457 584h0M52 141h0M531 214h0M468 357h0M611 405h0M431 372h0M469 388h0M441 437h0M517 117h0M603 70h0M279 388h0M691 443h0M126 581h0M557 445h0M439 258h0M149 510h0M410 188h0M422 174h0M18 76h0M500 176h0M543 142h0M410 141h0M326 426h0M214 394h0M511 182h0" stroke="#b5877b" stroke-width="13" stroke-linecap="round" fill="none"/><path transform="scale(1.2,0.92)" d="M258 443h0M412 661h0M145 445h0M284 707h0M190 238h0M180 263h0M382 490h0M286 108h0M146 298h0M242 497h0M284 450h0M332 659h0M357 558h0M115 79h0M-2 750h0M598 750h0M350 30h0M20 273h0M143 284h0M52 360h0M84 84h0M389 171h0M355 256h0M389 339h0M454 199h0M565 65h0M584 230h0M568 224h0M18 241h0M209 696h0M387 283h0M46 314h0M74 307h0M40 242h0M83 269h0M44 337h0M124 35h0M13 491h0M195 299h0M59 681h0M56 548h0M508 468h0M374 526h0M465 639h0M301 465h0M244 135h0M483 266h0M290 404h0M276 618h0M238 743h0" stroke="#b5877b" stroke-width="15" stroke-linecap="round" fill="none"/><path transform="scale(0.92,1.2)" d="M598 81h0M106 316h0M359 420h0M663 369h0M637 361h0M763 33h0M557 209h0M159 124h0M-3 371h0M779 371h0M318 33h0M266 476h0M134 477h0M287 372h0M530 378h0M718 158h0M666 394h0M173 281h0M-5 99h0M777 99h0M-14 31h0M768 31h0M257 453h0M236 191h0M752 153h0M266 57h0M650 48h0M547 330h0M310 183h0M167 240h0M187 205h0M19 271h0M433 33h0M694 529h0M738 465h0M666 421h0M516 512h0M137 170h0M22 128h0M29 121h0M571 202h0M148 339h0M696 357h0M733 14h0M581 584h0M512 209h0M62 324h0M268 230h0M387 69h0M403 304h0M506 277h0M234 409h0M395 395h0M7 117h0M789 117h0M252 526h0" stroke="#b5877b" stroke-width="15" stroke-linecap="round" fill="none"/><path transform="scale(1.2,0.92)" d="M298 33h0M138 719h0M123 328h0M232 487h0M7 433h0M607 433h0M112 308h0M141 225h0M90 224h0M97 436h0M5 470h0M605 470h0M8 102h0M608 102h0M538 673h0M243 432h0M66 426h0M369 240h0M359 467h0M131 156h0M17 300h0M297 173h0M507 509h0M-11 471h0M589 471h0M137 721h0M146 667h0M372 261h0M198 245h0M72 223h0M242 583h0M264 156h0M449 562h0M7 63h0M607 63h0M533 5h0M533 788h0M529 431h0M193 237h0M398 135h0M146 20h0M571 74h0M5 271h0M605 271h0M534 550h0M439 262h0M265 478h0M165 468h0M136 660h0" stroke="#b5877b" stroke-width="18" stroke-linecap="round" fill="none"/><path transform="scale(0.92,1.2)" d="M733 171h0M301 308h0M452 232h0M80 259h0M714 490h0M354 360h0M454 341h0M427 330h0M505 458h0M504 423h0M290 47h0M-14 68h0M768 68h0M564 578h0M144 58h0M114 439h0M128 117h0M378 436h0M4 513h0M786 513h0M692 262h0M608 170h0M247 491h0M650 470h0M534 33h0M97 421h0M764 294h0M276 251h0M56 123h0M446 451h0M318 217h0M725 166h0M682 202h0M129 505h0M333 475h0M609 90h0M415 467h0M696 168h0" stroke="#b5877b" stroke-width="18" stroke-linecap="round" fill="none"/><path transform="scale(1.2,0.92)" d="M75 683h0M191 452h0M135 302h0M27 273h0M189 603h0M445 574h0M581 580h0M110 166h0M525 395h0M-4 360h0M596 360h0M263 80h0M406 249h0M127 499h0M333 -9h0M333 774h0M532 285h0M33 521h0M230 657h0M49 81h0" stroke="#b5877b" stroke-width="21" stroke-linecap="round" fill="none"/><path transform="scale(0.92,1.2)" d="M386 110h0M304 454h0M483 540h0M215 509h0M47 120h0M728 305h0M638 468h0M226 105h0M616 418h0M316 432h0M404 173h0M381 427h0M221 260h0M655 249h0M607 588h0M461 373h0M484 489h0M370 403h0M598 162h0M248 502h0" stroke="#b5877b" stroke-width="21" stroke-linecap="round" fill="none"/><path transform="scale(1.2,0.92)" d="M417 196h0M496 397h0M240 355h0M338 266h0M435 617h0" stroke="#b5877b" stroke-width="24" stroke-linecap="round" fill="none"/><path transform="scale(0.92,1.2)" d="M120 207h0M303 232h0M172 278h0M244 139h0M146 498h0M564 58h0M519 535h0M116 241h0" stroke="#b5877b" stroke-width="24" stroke-linecap="round" fill="none"/><path transform="scale(1.2,0.92)" d="M125 588h0M343 313h0M174 618h0M344 644h0M563 530h0M375 637h0M-4 366h0M596 366h0M10 398h0M610 398h0M504 392h0M146 739h0M326 506h0M519 554h0M198 36h0M180 95h0" stroke="#b86d60" stroke-width="11" stroke-linecap="round" fill="none"/><path transform="scale(0.92,1.2)" d="M517 221h0M487 380h0M368 96h0M110 530h0M164 353h0M551 237h0M215 119h0M100 75h0M328 394h0M624 499h0M603 586h0M631 103h0M754 172h0M65 77h0" stroke="#b86d60" stroke-width="11" stroke-linecap="round" fill="none"/><path transform="scale(1.2,0.92)" d="M419 724h0M456 587h0M521 692h0M252 64h0M461 735h0M468 748h0M348 564h0M202 -15h0M202 767h0M568 278h0M492 200h0M135 96h0M38 568h0M99 357h0M156 322h0M337 388h0M311 -2h0M311 781h0M377 280h0M291 421h0M321 174h0M158 676h0" stroke="#b86d60" stroke-width="13" stroke-linecap="round" fill="none"/><path transform="scale(0.92,1.2)" d="M294 40h0M603 261h0M659 81h0M647 360h0M108 201h0M491 208h0M39 437h0M356 365h0M358 289h0M512 132h0M611 11h0M611 611h0M616 294h0M146 246h0M-14 520h0M769 520h0M700 535h0M220 586h0M612 378h0M593 396h0M497 483h0M267 505h0M546 319h0M312 264h0M718 542h0M347 84h0M752 431h0M96 357h0M18 341h0M378 438h0M46 446h0M122 286h0M675 -9h0M675 591h0M470 107h0M-8 312h0M774 312h0M112 424h0M153 86h0M525 257h0M675 392h0M613 447h0M493 266h0" stroke="#b86d60" stroke-width="13" stroke-linecap="round" fill="none"/><path transform="scale(1.2,0.92)" d="M542 442h0M126 451h0M423 -11h0M423 771h0M92 119h0M289 412h0M39 251h0M437 210h0M340 589h0M147 716h0M481 350h0M147 611h0M287 641h0M456 225h0M337 366h0M192 459h0M66 557h0M42 574h0M74 108h0M404 680h0M180 450h0M128 611h0M469 210h0M71 90h0M515 644h0M468 191h0M490 531h0M30 479h0M470 251h0M426 300h0M308 416h0M28 166h0M168 439h0M236 22h0M369 460h0" stroke="#b86d60" stroke-width="15" stroke-linecap="round" fill="none"/><path transform="scale(0.92,1.2)" d="M271 74h0M568 222h0M533 248h0M558 546h0M316 48h0M301 56h0M679 88h0M372 158h0M151 261h0M205 16h0M317 200h0M391 540h0M552 186h0M467 497h0M602 512h0M587 452h0M320 164h0M610 91h0M185 246h0M661 166h0M381 264h0M392 419h0M101 571h0M340 85h0M-13 393h0M769 393h0M651 471h0M521 573h0M517 96h0M662 289h0M211 373h0M400 235h0M251 3h0M251 603h0M-9 41h0M774 41h0M435 468h0" stroke="#b86d60" stroke-width="15" stroke-linecap="round" fill="none"/><path transform="scale(1.2,0.92)" d="M432 371h0M585 74h0M276 711h0M419 195h0M375 311h0M399 312h0M459 615h0M530 387h0M165 629h0M239 735h0M418 590h0M307 393h0M47 766h0M453 618h0M396 179h0M22 309h0M318 604h0M424 349h0" stroke="#b86d60" stroke-width="18" stroke-linecap="round" fill="none"/><path transform="scale(0.92,1.2)" d="M615 524h0M723 35h0M760 55h0M338 40h0M763 567h0M12 439h0M794 439h0M258 50h0M79 417h0M588 263h0M595 458h0M335 432h0M238 377h0M174 58h0M653 133h0M120 -4h0M120 596h0M313 8h0M313 608h0M662 581h0M611 335h0M375 507h0M65 570h0M82 51h0M179 542h0" stroke="#b86d60" stroke-width="18" stroke-linecap="round" fill="none"/><path transform="scale(1.2,0.92)" d="M65 524h0M110 708h0M377 252h0M51 252h0M583 65h0M235 337h0M451 285h0M363 613h0M360 182h0M16 106h0M560 221h0M101 584h0" stroke="#b86d60" stroke-width="21" stroke-linecap="round" fill="none"/><path transform="scale(0.92,1.2)" d="M542 1h0M542 601h0M86 98h0M579 504h0M351 60h0M97 138h0M602 190h0M348 47h0M358 457h0M268 6h0M268 606h0M701 386h0M507 214h0M635 334h0M327 23h0M104 490h0M356 548h0M18 31h0M493 113h0M182 223h0M513 -2h0M513 598h0M655 384h0" stroke="#b86d60" stroke-width="21" stroke-linecap="round" fill="none"/><path transform="scale(1.2,0.92)" d="M247 610h0M169 457h0M479 368h0M-3 624h0M597 624h0M203 264h0M-1 318h0M599 318h0M231 423h0M333 737h0M61 590h0" stroke="#b86d60" stroke-width="24" stroke-linecap="round" fill="none"/><path transform="scale(0.92,1.2)" d="M522 253h0M89 140h0M561 486h0M139 343h0M59 569h0" stroke="#b86d60" stroke-width="24" stroke-linecap="round" fill="none"/><path transform="scale(1.2,0.92)" d="M501 538h0M175 262h0M42 350h0M357 491h0M151 622h0M403 479h0M120 58h0M427 425h0M209 602h0M119 41h0M447 364h0M100 600h0M488 120h0" stroke="#cbbdb1" stroke-width="11" stroke-linecap="round" fill="none"/><path transform="scale(0.92,1.2)" d="M325 494h0M610 462h0M468 390h0M530 340h0M-11 545h0M772 545h0M722 274h0M725 284h0M274 179h0M726 454h0M743 367h0M141 40h0M620 482h0M138 364h0M678 425h0" stroke="#cbbdb1" stroke-width="11" stroke-linecap="round" fill="none"/><path transform="scale(1.2,0.92)" d="M179 79h0M114 582h0M123 66h0M445 54h0M244 654h0M509 602h0M535 109h0M21 181h0M471 462h0M317 316h0M468 575h0M478 586h0M112 490h0M426 386h0M220 131h0M214 18h0M81 41h0M67 531h0M62 200h0M126 692h0M494 647h0M290 210h0M558 689h0M49 663h0M280 619h0M322 362h0M93 69h0M559 94h0M420 -3h0M420 780h0M87 485h0M301 403h0M294 751h0M311 76h0M211 297h0M74 696h0M57 724h0M520 260h0M279 606h0" stroke="#cbbdb1" stroke-width="13" stroke-linecap="round" fill="none"/><path transform="scale(0.92,1.2)" d="M700 252h0M33 44h0M279 144h0M57 276h0M413 140h0M727 376h0M293 112h0M-15 356h0M768 356h0M371 157h0M449 98h0M356 466h0M136 485h0M157 11h0M157 611h0M331 15h0M453 183h0M726 446h0M14 117h0M797 117h0M137 281h0M532 271h0M143 400h0M388 489h0M69 231h0M84 252h0M191 183h0" stroke="#cbbdb1" stroke-width="13" stroke-linecap="round" fill="none"/><path transform="scale(1.2,0.92)" d="M222 69h0M4 200h0M604 200h0M473 2h0M473 785h0M185 345h0M54 553h0M461 18h0M310 276h0M92 484h0M17 215h0M350 591h0M127 553h0M84 728h0M400 380h0M505 16h0M576 158h0M521 495h0M41 443h0M21 135h0M328 27h0M59 542h0M2 295h0M602 295h0M356 593h0M123 12h0M123 795h0M269 426h0M254 623h0M282 703h0M490 503h0M471 326h0M-8 583h0M592 583h0M549 560h0M269 581h0M479 645h0M117 295h0M59 391h0M304 -2h0M304 780h0M434 162h0M472 728h0M107 583h0M24 528h0M208 300h0M566 614h0M583 -0h0M583 783h0M222 -7h0M222 776h0M299 384h0M165 506h0M304 705h0M500 548h0M405 255h0M406 528h0" stroke="#cbbdb1" stroke-width="15" stroke-linecap="round" fill="none"/><path transform="scale(0.92,1.2)" d="M115 174h0M637 320h0M233 310h0M130 484h0M637 24h0M579 419h0M130 203h0M624 373h0M161 574h0M209 92h0M421 123h0M160 177h0M524 425h0M453 463h0M408 331h0M50 425h0M20 500h0M87 281h0M519 -11h0M519 589h0M231 577h0M267 395h0M288 74h0M520 582h0M46 40h0M735 233h0M560 558h0M716 162h0M511 141h0M257 53h0M308 -6h0M308 594h0M84 345h0M11 447h0M794 447h0M675 289h0M388 281h0M102 496h0M22 39h0M595 30h0M14 141h0M797 141h0M541 308h0M417 258h0M66 245h0" stroke="#cbbdb1" stroke-width="15" stroke-linecap="round" fill="none"/><path transform="scale(1.2,0.92)" d="M77 659h0M324 739h0M170 280h0M354 650h0M191 478h0M552 483h0M296 144h0M360 254h0M112 740h0M400 266h0M418 279h0M86 336h0M71 360h0M12 464h0M561 649h0M544 602h0M252 759h0M349 281h0M359 355h0M325 760h0M409 266h0M139 756h0M331 72h0M235 263h0M324 564h0M60 317h0M224 25h0M128 532h0" stroke="#cbbdb1" stroke-width="18" stroke-linecap="round" fill="none"/><path transform="scale(0.92,1.2)" d="M355 -8h0M355 592h0M717 549h0M550 234h0M144 -11h0M144 589h0M641 129h0M733 329h0M2 97h0M785 97h0M90 300h0M110 522h0M694 163h0M585 35h0M281 395h0M30 333h0M49 54h0M233 450h0M197 503h0M23 256h0M199 -5h0M199 595h0M530 285h0M97 174h0M525 106h0M189 513h0M265 64h0" stroke="#cbbdb1" stroke-width="18" stroke-linecap="round" fill="none"/><path transform="scale(1.2,0.92)" d="M129 483h0M126 -3h0M126 779h0M431 13h0M431 795h0M230 226h0M331 211h0M455 620h0M21 603h0M13 581h0M283 297h0M154 205h0M408 635h0M354 16h0M176 221h0M208 332h0M464 113h0" stroke="#cbbdb1" stroke-width="21" stroke-linecap="round" fill="none"/><path transform="scale(0.92,1.2)" d="M573 532h0M89 297h0M363 511h0M345 278h0M448 391h0M551 73h0M511 147h0M398 210h0M496 214h0M511 53h0M114 578h0M633 554h0M3 13h0M786 13h0M604 25h0M428 405h0M339 504h0M216 39h0M128 5h0M128 605h0M166 188h0" stroke="#cbbdb1" stroke-width="21" stroke-linecap="round" fill="none"/><path transform="scale(1.2,0.92)" d="M133 236h0M74 723h0M450 -1h0M450 782h0M288 716h0M134 50h0M536 569h0M412 246h0" stroke="#cbbdb1" stroke-width="24" stroke-linecap="round" fill="none"/><path transform="scale(0.92,1.2)" d="M212 432h0M36 465h0M42 462h0M143 44h0" stroke="#cbbdb1" stroke-width="24" stroke-linecap="round" fill="none"/><path transform="scale(1.2,0.92)" d="M338 462h0M221 465h0M259 153h0M333 538h0M100 475h0M87 124h0M514 648h0M415 215h0M65 347h0M273 740h0M289 241h0M461 551h0M480 559h0M273 513h0M233 337h0M81 240h0M291 203h0" stroke="#b5877b" stroke-width="11" stroke-linecap="round" fill="none"/><path transform="scale(0.92,1.2)" d="M402 332h0M423 30h0M130 260h0M755 555h0M233 493h0M101 49h0M193 70h0M178 459h0M443 196h0M671 215h0M663 214h0M299 470h0M699 433h0M418 203h0M364 362h0M437 418h0M335 212h0M597 301h0M619 450h0M516 210h0M92 17h0" stroke="#b5877b" stroke-width="11" stroke-linecap="round" fill="none"/><path transform="scale(1.2,0.92)" d="M53 206h0M457 145h0M263 188h0M126 213h0M112 217h0M294 395h0M20 46h0M260 54h0M586 54h0M110 37h0M430 394h0M529 519h0M4 273h0M604 273h0M483 20h0M83 560h0M-7 299h0M593 299h0M378 679h0M271 254h0M359 556h0M349 502h0M174 -13h0M174 770h0M114 757h0M233 165h0M182 370h0M370 -10h0M370 773h0M156 150h0M415 284h0M105 645h0M457 655h0M127 315h0M577 27h0M255 186h0M474 546h0M431 391h0M4 696h0M604 696h0M501 616h0M432 632h0M204 675h0" stroke="#b5877b" stroke-width="13" stroke-linecap="round" fill="none"/><path transform="scale(0.92,1.2)" d="M169 62h0M269 547h0M261 516h0M251 342h0M298 344h0M325 230h0M355 206h0M602 186h0M30 52h0M679 383h0M90 410h0M177 256h0M494 73h0M607 567h0M361 256h0M180 137h0M445 149h0M248 302h0M630 157h0M514 52h0M677 252h0M440 580h0M707 248h0M504 505h0M420 59h0M506 576h0M712 230h0M228 93h0M657 259h0M83 367h0M596 13h0M342 533h0M339 459h0M165 23h0M90 91h0M642 351h0M202 269h0M172 211h0M472 213h0M234 512h0" stroke="#b5877b" stroke-width="13" stroke-linecap="round" fill="none"/><path transform="scale(1.2,0.92)" d="M26 683h0M233 30h0M169 681h0M128 331h0M13 543h0M391 197h0M309 418h0M90 377h0M400 670h0M386 540h0M536 509h0M157 297h0M82 598h0M422 617h0M297 544h0M500 639h0M552 391h0M215 36h0M493 658h0M259 677h0M526 581h0M445 682h0M264 343h0M14 370h0M122 361h0M151 105h0M152 131h0M575 363h0M116 641h0M82 366h0M496 543h0M572 297h0M549 591h0M1 337h0M601 337h0M295 437h0M410 712h0M524 329h0M401 159h0M147 743h0M406 14h0M406 796h0M555 356h0M146 1h0M146 783h0M106 89h0M270 112h0M521 397h0M344 569h0" stroke="#b5877b" stroke-width="15" stroke-linecap="round" fill="none"/><path transform="scale(0.92,1.2)" d="M33 334h0M282 -1h0M282 599h0M467 480h0M702 312h0M727 373h0M362 310h0M99 264h0M607 235h0M314 32h0M364 32h0M450 310h0M322 51h0M459 404h0M366 139h0M467 556h0M328 82h0M38 224h0M-3 412h0M779 412h0M181 108h0M126 81h0M471 179h0M272 285h0M319 103h0M763 18h0M743 18h0M159 10h0M159 610h0M62 494h0M676 536h0M652 69h0M558 185h0M567 183h0M208 502h0M58 398h0M229 70h0M651 446h0M197 181h0M304 208h0M294 423h0M391 296h0M158 40h0M677 371h0" stroke="#b5877b" stroke-width="15" stroke-linecap="round" fill="none"/><path transform="scale(1.2,0.92)" d="M402 217h0M190 378h0M95 110h0M434 364h0M460 383h0M128 231h0M104 392h0M-3 757h0M597 757h0M442 746h0M396 559h0M28 330h0M576 81h0M185 328h0M557 693h0M132 133h0M337 493h0M73 83h0M124 470h0M437 389h0M286 263h0M364 757h0M314 416h0M151 661h0M41 -7h0M41 776h0M486 537h0M197 253h0M498 281h0M120 57h0M21 432h0M358 318h0M-5 647h0M595 647h0M103 235h0M305 528h0" stroke="#b5877b" stroke-width="18" stroke-linecap="round" fill="none"/><path transform="scale(0.92,1.2)" d="M44 129h0M-10 339h0M773 339h0M325 398h0M639 573h0M555 146h0M286 29h0M329 49h0M304 360h0M410 252h0M405 245h0M390 357h0M513 432h0M570 94h0M495 196h0M498 -9h0M498 591h0M251 101h0M352 313h0M-12 230h0M771 230h0M333 524h0M468 317h0M100 444h0M631 497h0M500 242h0M77 268h0M467 256h0M25 369h0M589 223h0M673 -6h0M673 594h0M620 167h0M657 274h0M332 424h0M636 280h0M276 332h0M445 478h0" stroke="#b5877b" stroke-width="18" stroke-linecap="round" fill="none"/><path transform="scale(1.2,0.92)" d="M245 603h0M110 386h0M181 205h0M17 66h0M-5 756h0M595 756h0M438 100h0M468 623h0M475 166h0M452 77h0M117 571h0M480 289h0M471 685h0M536 71h0M-11 333h0M589 333h0M394 713h0M297 594h0M270 75h0M182 502h0M309 497h0M377 240h0" stroke="#b5877b" stroke-width="21" stroke-linecap="round" fill="none"/><path transform="scale(0.92,1.2)" d="M614 452h0M177 160h0M486 210h0M65 200h0M284 353h0M419 217h0M562 539h0M102 330h0M-11 201h0M772 201h0M425 515h0M171 -3h0M171 597h0M234 375h0M738 473h0M361 249h0M672 217h0M470 -11h0M470 589h0M247 53h0M629 515h0M536 62h0M109 -11h0M109 589h0M528 374h0M510 410h0M604 447h0" stroke="#b5877b" stroke-width="21" stroke-linecap="round" fill="none"/><path transform="scale(1.2,0.92)" d="M384 241h0M537 21h0M315 292h0M475 157h0M13 268h0M246 532h0M124 134h0M539 376h0M224 232h0" stroke="#b5877b" stroke-width="24" stroke-linecap="round" fill="none"/><path transform="scale(0.92,1.2)" d="M323 438h0M588 495h0M764 221h0M422 347h0M330 569h0M75 481h0M172 160h0" stroke="#b5877b" stroke-width="24" stroke-linecap="round" fill="none"/><path transform="scale(1.2,0.92)" d="M143 756h0M269 545h0M4 732h0M604 732h0M416 690h0M394 287h0M177 526h0M381 371h0M137 350h0M196 569h0" stroke="#b86d60" stroke-width="11" stroke-linecap="round" fill="none"/><path transform="scale(0.92,1.2)" d="M521 231h0M509 209h0M145 22h0M586 380h0M399 574h0M596 446h0M472 555h0M651 505h0M76 427h0M324 571h0M365 541h0M680 520h0M320 510h0M58 388h0M362 478h0" stroke="#b86d60" stroke-width="11" stroke-linecap="round" fill="none"/><path transform="scale(1.2,0.92)" d="M363 438h0M275 758h0M585 455h0M412 -1h0M412 781h0M264 446h0M309 151h0M261 83h0M299 631h0M237 118h0M275 638h0M105 705h0M347 15h0M347 797h0M235 277h0M9 683h0M609 683h0M426 559h0M325 689h0M434 236h0M449 680h0M450 404h0M255 331h0M404 699h0M301 624h0M248 92h0M146 95h0M157 505h0M405 561h0M464 190h0M298 528h0M538 58h0M275 469h0M193 634h0M308 418h0M517 755h0M103 558h0M471 629h0M128 540h0M105 568h0M64 -6h0M64 777h0" stroke="#b86d60" stroke-width="13" stroke-linecap="round" fill="none"/><path transform="scale(0.92,1.2)" d="M508 392h0M584 108h0M443 580h0M115 -3h0M115 597h0M371 493h0M730 494h0M614 155h0M283 206h0M622 30h0M171 53h0M703 321h0M687 380h0M674 400h0M93 439h0M639 442h0" stroke="#b86d60" stroke-width="13" stroke-linecap="round" fill="none"/><path transform="scale(1.2,0.92)" d="M527 680h0M62 220h0M254 746h0M384 479h0M287 696h0M123 720h0M354 738h0M457 356h0M281 367h0M71 502h0M146 632h0M62 479h0M332 477h0M442 657h0M548 656h0M11 590h0M611 590h0M113 181h0M104 108h0M444 183h0M188 64h0M547 477h0M252 572h0M538 524h0M-3 750h0M597 750h0M523 531h0M405 156h0M111 582h0M587 296h0M518 11h0M518 794h0M5 180h0M605 180h0M554 655h0M463 444h0M115 -6h0M115 777h0M412 124h0M308 655h0M480 291h0M188 462h0M365 207h0" stroke="#b86d60" stroke-width="15" stroke-linecap="round" fill="none"/><path transform="scale(0.92,1.2)" d="M723 310h0M172 48h0M705 136h0M34 343h0M628 216h0M257 463h0M678 459h0M338 29h0M666 233h0M143 506h0M359 502h0M200 472h0M120 466h0M477 474h0M283 58h0M757 534h0M710 173h0M650 469h0M453 220h0M143 583h0M302 111h0M650 481h0M533 169h0M579 435h0M6 42h0M789 42h0M710 347h0M12 261h0M795 261h0M718 467h0M383 11h0M383 611h0M382 480h0M653 411h0M444 407h0M146 181h0M729 312h0M734 321h0" stroke="#b86d60" stroke-width="15" stroke-linecap="round" fill="none"/><path transform="scale(1.2,0.92)" d="M7 416h0M607 416h0M308 470h0M278 518h0M40 544h0M239 65h0M63 -2h0M63 781h0M294 746h0M365 321h0M363 680h0M82 296h0M382 110h0M59 484h0M195 238h0M551 574h0M544 602h0M284 684h0M139 345h0M507 666h0M567 582h0M504 311h0M324 37h0M183 426h0M480 269h0M507 297h0M438 557h0M477 666h0M151 458h0M544 59h0M100 137h0M321 57h0M527 -12h0M527 771h0M376 320h0M33 86h0" stroke="#b86d60" stroke-width="18" stroke-linecap="round" fill="none"/><path transform="scale(0.92,1.2)" d="M151 351h0M514 222h0M155 394h0M737 131h0M324 53h0M180 79h0M438 433h0M402 483h0M384 173h0M96 289h0M541 349h0M447 571h0M693 522h0M361 510h0M455 351h0M400 20h0M150 14h0M544 362h0M600 294h0M698 69h0M262 352h0M585 461h0M223 398h0M28 457h0M356 540h0M761 73h0M523 195h0M301 529h0M720 316h0M488 564h0M48 32h0M124 304h0M195 369h0M624 241h0M94 137h0M200 350h0M393 325h0M620 184h0M156 239h0M456 299h0" stroke="#b86d60" stroke-width="18" stroke-linecap="round" fill="none"/><path transform="scale(1.2,0.92)" d="M240 750h0M118 21h0M18 583h0M94 441h0M79 672h0M337 328h0M388 690h0M462 21h0M445 723h0M256 122h0M463 -12h0M463 771h0M504 620h0M469 290h0M582 166h0M426 256h0" stroke="#b86d60" stroke-width="21" stroke-linecap="round" fill="none"/><path transform="scale(0.92,1.2)" d="M124 85h0M557 397h0M538 504h0M638 287h0M359 230h0M597 546h0M144 89h0M385 11h0M385 611h0M202 237h0M218 19h0M558 39h0M219 492h0M329 84h0M58 115h0M237 348h0M105 381h0M651 398h0M112 445h0M144 2h0M144 602h0" stroke="#b86d60" stroke-width="21" stroke-linecap="round" fill="none"/><path transform="scale(1.2,0.92)" d="M502 722h0M-2 283h0M598 283h0M-6 689h0M594 689h0M521 312h0M260 579h0M102 744h0M547 733h0M316 312h0" stroke="#b86d60" stroke-width="24" stroke-linecap="round" fill="none"/><path transform="scale(0.92,1.2)" d="M493 253h0M3 443h0M785 443h0M194 240h0" stroke="#b86d60" stroke-width="24" stroke-linecap="round" fill="none"/></pattern></defs>
<g clip-path="url(#cpframe)">
<rect x="89" y="87" width="3105" height="600" fill="url(#gsky)"/>
<g clip-path="url(#cpsky)"><g filter="url(#fblur)">
<path d="M96.0,420.0C96.2,373.3 95.7,191.3 97.0,140.0C98.3,88.7 98.5,117.3 104.0,112.0C109.5,106.7 98.0,108.7 130.0,108.0C162.0,107.3 263.0,106.8 296.0,108.0C329.0,109.2 318.7,110.2 328.0,115.0C337.3,119.8 344.7,129.0 352.0,137.0C359.3,145.0 365.3,158.7 372.0,163.0C378.7,167.3 380.3,163.8 392.0,163.0C403.7,162.2 420.7,158.0 442.0,158.0C463.3,158.0 498.3,159.2 520.0,163.0C541.7,166.8 557.3,175.0 572.0,181.0C586.7,187.0 596.8,195.0 608.0,199.0C619.2,203.0 631.7,204.7 639.0,205.0C646.3,205.3 641.7,204.7 652.0,201.0C662.3,197.3 684.2,186.8 701.0,183.0C717.8,179.2 731.5,178.3 753.0,178.0C774.5,177.7 808.5,178.8 830.0,181.0C851.5,183.2 869.0,189.2 882.0,191.0C895.0,192.8 899.3,192.8 908.0,192.0C916.7,191.2 916.7,189.5 934.0,186.0C951.3,182.5 987.7,175.7 1012.0,171.0C1036.3,166.3 1056.2,159.3 1080.0,158.0C1103.8,156.7 1133.8,160.0 1155.0,163.0C1176.2,166.0 1189.7,173.0 1207.0,176.0C1224.3,179.0 1241.7,179.3 1259.0,181.0C1276.3,182.7 1297.2,183.4 1311.0,186.0C1324.8,188.6 1333.5,192.7 1342.0,196.5C1350.5,200.3 1350.0,201.7 1362.0,209.0C1374.0,216.3 1396.7,230.1 1414.0,240.5C1431.3,250.9 1448.7,263.4 1466.0,271.5C1483.3,279.6 1498.2,282.2 1518.0,289.0C1537.8,295.8 1564.7,300.2 1585.0,312.0C1605.3,323.8 1627.5,342.0 1640.0,360.0C1652.5,378.0 1656.7,410.0 1660.0,420.0Z" fill="url(#gcloud)"/>
<path d="M1500.0,420.0C1506.7,405.0 1528.5,352.0 1540.0,330.0C1551.5,308.0 1555.5,297.8 1569.0,288.0C1582.5,278.2 1603.7,277.7 1621.0,271.5C1638.3,265.3 1655.7,257.9 1673.0,251.0C1690.3,244.1 1707.8,236.1 1725.0,230.0C1742.2,223.9 1754.5,218.9 1776.0,214.6C1797.5,210.3 1828.0,206.4 1854.0,204.0C1880.0,201.6 1911.3,200.4 1932.0,200.0C1952.7,199.6 1963.3,200.1 1978.0,201.6C1992.7,203.1 2011.3,210.9 2020.0,209.0C2028.7,207.1 2024.2,197.7 2030.0,190.0C2035.8,182.3 2042.2,170.2 2055.0,163.0C2067.8,155.8 2085.3,150.5 2107.0,147.0C2128.7,143.5 2159.2,141.1 2185.0,142.0C2210.8,142.9 2240.5,147.7 2262.0,152.5C2283.5,157.3 2301.3,163.3 2314.0,170.6C2326.7,177.9 2331.7,190.8 2338.0,196.5C2344.3,202.2 2338.7,204.6 2352.0,205.0C2365.3,205.4 2398.5,202.6 2418.0,199.0C2437.5,195.4 2451.8,187.3 2469.0,183.5C2486.2,179.7 2503.7,177.9 2521.0,176.0C2538.3,174.1 2560.0,175.1 2573.0,172.0C2586.0,168.9 2586.2,161.8 2599.0,157.6C2611.8,153.4 2632.8,149.2 2650.0,147.0C2667.2,144.8 2684.7,143.8 2702.0,144.7C2719.3,145.6 2736.7,148.2 2754.0,152.5C2771.3,156.8 2791.3,164.8 2806.0,170.6C2820.7,176.3 2830.2,185.3 2842.0,187.0C2853.8,188.7 2867.3,182.8 2877.0,181.0C2886.7,179.2 2879.5,177.5 2900.0,176.0C2920.5,174.5 2966.7,172.7 3000.0,172.0C3033.3,171.3 3073.3,171.3 3100.0,172.0C3126.7,172.7 3146.7,173.0 3160.0,176.0C3173.3,179.0 3175.5,181.8 3180.0,190.0C3184.5,198.2 3185.7,186.7 3187.0,225.0C3188.3,263.3 3187.8,387.5 3188.0,420.0Z" fill="url(#gcloud)"/>
</g>
<g filter="url(#fblur2)" fill="#86bfe6">
<ellipse cx="2230" cy="327" rx="215" ry="15" opacity=".33"/>
<ellipse cx="2250" cy="316" rx="70" ry="12" opacity=".25"/>
<ellipse cx="2575" cy="335" rx="85" ry="11" opacity=".28"/>
<ellipse cx="975" cy="328" rx="95" ry="11" opacity=".3"/>
<ellipse cx="1490" cy="290" rx="45" ry="18" opacity=".25"/>
</g><g filter="url(#fblur3)" fill="#7fb6dc">
<circle cx="97" cy="256" r="11" opacity=".75"/><circle cx="339" cy="291" r="10" opacity=".7"/><circle cx="2751" cy="250" r="9" opacity=".8"/>
<ellipse cx="96" cy="1000" rx="0" ry="0"/>
</g></g>
<rect x="89" y="686" width="3105.7" height="58" fill="#cbb492"/>
<rect x="91" y="686.6" width="3103" height="4.9" fill="#78bbc3"/>
<rect x="89" y="685.6" width="3105" height="1.3" fill="#6cbb45"/>
<rect x="91" y="695.9" width="1417" height="4.2" fill="#fff"/><rect x="1634.3" y="695.9" width="554.7" height="4.2" fill="#fff"/>
<path d="M997,700.1V697.6Q997,697 998,697H1039.5L1041.8,700.1Z" fill="#a19d9d"/>
<path d="M1761,700.1V697.4H1790.5L1791.6,700.1Z" fill="#a19d9d"/>
<rect x="89" y="743" width="3105" height="800" fill="#d8cabf"/>
<g clip-path="url(#cpl1)"><g transform="scale(1.3,1)" stroke="#ccbfb4" stroke-linecap="round" fill="none"><path d="M2065 1088h0M1783 1394h0M2236 1230h0M254 1173h0M2402 1119h0M119 1185h0M1475 956h0M1447 765h0M2269 1317h0M2262 1311h0M1922 757h0M911 1211h0M1968 1225h0M325 1277h0M635 1251h0M1755 1345h0M921 1160h0M2349 1028h0M339 1373h0M1782 1173h0M1911 1002h0M1910 1006h0M1912 999h0M1848 1328h0M553 930h0M1450 1200h0M1113 1283h0M333 873h0M888 819h0M2147 1074h0M2138 1079h0M264 1208h0M1065 1299h0M339 773h0M1127 830h0M1895 1239h0M384 1125h0M1913 1080h0M1929 1082h0M1984 1047h0M1681 1391h0M738 1250h0M2408 811h0M1222 942h0M411 1382h0M411 1377h0M416 1370h0M1047 1363h0M2416 1407h0M1331 1063h0M2035 1173h0M1570 1215h0M1005 818h0M820 884h0M584 1223h0M608 1325h0M2064 1277h0M965 784h0M459 854h0M1498 1219h0M316 1407h0M223 1222h0M1465 1181h0M1262 939h0M1401 837h0M2271 973h0M669 842h0M674 838h0M2407 793h0M1851 1305h0M1856 1302h0M1461 844h0M2357 1056h0M492 886h0M484 889h0M938 1129h0M293 1342h0M2076 1410h0M1470 1362h0M2022 1007h0M2022 1015h0M2057 893h0M212 1364h0M630 1048h0M1645 1389h0M1955 959h0M1220 1115h0M1456 804h0M1032 862h0M2031 1016h0M1563 1335h0M1934 1058h0M1924 1049h0M2246 968h0M2240 970h0M2449 831h0M744 955h0M753 956h0M680 1386h0M1164 1000h0M587 1107h0M1132 960h0M345 821h0M1477 948h0M674 803h0M1976 966h0M244 1135h0M448 1130h0M991 774h0M591 1015h0M588 1017h0M812 881h0M1380 1341h0M1762 1082h0M1017 896h0M2390 841h0M467 1025h0M2420 910h0M1191 1044h0M608 930h0M431 1159h0M2451 1221h0M2334 1258h0M2394 1353h0M2267 1084h0M704 1112h0M490 847h0M933 1325h0M348 1026h0M887 1069h0M447 782h0M1428 1211h0M1303 1152h0M1408 1326h0M1540 773h0M733 800h0M2421 842h0M2420 841h0M1194 1177h0M1686 899h0M1827 1355h0M1002 1257h0M516 1299h0M419 1351h0M183 1027h0M916 1310h0M1310 1061h0M607 1290h0M608 894h0M2105 861h0M527 1340h0M1178 1276h0M2306 874h0M290 835h0M837 1093h0M1872 1203h0M1551 1163h0M2241 1210h0M1447 909h0M2298 1102h0M2306 1098h0M1574 787h0M2279 1056h0M269 818h0M643 1324h0M1403 1279h0M616 933h0M720 851h0M1078 1209h0M561 940h0M2061 1186h0M1982 876h0M1986 869h0M2250 1049h0M214 1155h0M2100 774h0M1902 1323h0M990 1363h0M1506 1032h0M422 1207h0M466 761h0M826 874h0M837 869h0M847 871h0M2170 1035h0M2160 1034h0M2170 1037h0M2245 877h0M314 1130h0M214 1002h0M2400 945h0M184 1278h0M2090 819h0M1143 812h0M556 878h0M1749 1315h0M422 1226h0M1013 930h0M2360 1080h0M731 1086h0M2012 1160h0M2128 869h0M493 1010h0M1062 1182h0M1710 927h0M1717 926h0M672 1105h0M678 1105h0M2068 1034h0M2158 772h0M389 1167h0M808 1292h0M542 1149h0M1254 1408h0M1051 814h0M1591 1021h0M1595 1021h0M664 1200h0M657 1197h0M1387 1334h0M940 1069h0M1516 780h0M465 1420h0M1859 1051h0M1997 1413h0M1083 768h0M2188 1243h0M1904 893h0M1161 780h0M1767 963h0M505 803h0M2057 1382h0M2369 1248h0M2125 1399h0M652 949h0M655 954h0M1565 959h0M1115 1129h0M1130 1133h0M1141 1192h0M903 1234h0M1436 1159h0M1284 921h0M1283 922h0M1127 995h0M1776 1371h0M1682 1275h0M1978 816h0M2175 881h0M2169 887h0M340 775h0M1507 1096h0M2117 1285h0M1456 1371h0M1056 1056h0M171 947h0M178 944h0M185 940h0M1361 801h0M463 980h0M460 976h0M176 891h0M2404 908h0M1557 932h0M2297 833h0M900 1209h0M1061 1200h0M1143 1292h0M1835 815h0M1829 818h0M1528 893h0M544 1055h0M407 1283h0M1424 1337h0M300 1013h0M141 1035h0M134 1036h0M1076 1377h0M1497 1276h0M953 1377h0M948 1369h0M972 1340h0M570 1353h0M1478 951h0M2357 756h0M705 945h0M1689 887h0M1695 887h0M1612 1122h0M1616 1111h0M2383 817h0M1598 1086h0M2435 881h0M2424 945h0M573 1166h0M275 823h0M1462 1406h0M1006 1370h0M881 985h0M121 1178h0M1514 1382h0M2309 946h0M2088 1360h0M1166 806h0M1170 798h0M661 814h0M1807 795h0M82 1411h0M1183 818h0M769 1365h0M1363 1305h0M1357 1300h0M1415 1162h0M287 1125h0M929 1338h0M1204 1078h0M1703 1192h0M1049 913h0M1151 791h0M366 827h0M1301 1403h0M2312 1436h0M478 989h0M1974 1241h0M1156 995h0M2235 1192h0M1909 1362h0M1361 922h0M1343 931h0M1410 889h0M1507 1238h0M2370 1398h0M1464 1244h0M1454 1243h0M252 1001h0M1418 1203h0M1576 946h0M2061 1423h0M1977 952h0M1976 946h0M1053 1303h0M1848 793h0M2179 1232h0M625 1412h0M627 1417h0M285 1325h0M1184 1389h0M1359 1235h0M682 1067h0M1382 1177h0M429 1249h0M436 1244h0M2155 1123h0M2200 1133h0M842 1222h0M833 1114h0M605 855h0M609 859h0M994 829h0M698 1072h0M1395 1080h0M2366 1099h0M733 1216h0M97 1406h0M1612 1304h0M1361 1361h0M900 1278h0M1823 1107h0M2030 774h0M1332 1346h0M1617 1030h0M1410 999h0M1830 1020h0M1826 1015h0M471 1188h0M262 1384h0M890 873h0M892 872h0M1316 1244h0M327 1404h0M621 848h0M1598 1177h0M887 855h0M1668 1315h0M1664 1311h0M983 947h0M1188 858h0M1247 1186h0M641 901h0M1185 1124h0M1714 1089h0M892 1268h0M1284 1047h0M926 1264h0M1460 1367h0M1782 1125h0M2189 1239h0M1616 1347h0M1031 983h0M1162 1157h0M1610 997h0" stroke-width="6"/><path d="M102 1339h0M223 1284h0M234 1285h0M1774 1397h0M2373 1060h0M2365 1059h0M574 1335h0M1536 787h0M443 786h0M453 783h0M1159 1168h0M1109 1242h0M1116 1351h0M2320 1368h0M2330 1366h0M2323 1358h0M908 1206h0M977 812h0M978 1314h0M1086 1368h0M1094 1364h0M322 1288h0M1010 1012h0M1849 862h0M546 1164h0M590 772h0M1751 1354h0M1756 1349h0M917 1165h0M698 1280h0M1870 1134h0M660 1291h0M1458 1204h0M1451 1193h0M2216 1257h0M536 902h0M1043 1246h0M2373 908h0M1181 1405h0M161 801h0M770 1348h0M618 1299h0M1515 1251h0M344 770h0M241 1141h0M236 1135h0M870 1056h0M1811 1362h0M1811 1360h0M1848 948h0M756 828h0M2185 1318h0M1921 1080h0M1284 1334h0M441 975h0M503 1023h0M498 1036h0M2311 1450h0M1748 974h0M1427 1079h0M557 1182h0M1123 858h0M1115 858h0M2409 1408h0M2406 1407h0M583 1138h0M589 1133h0M586 1139h0M2158 1163h0M403 813h0M2273 1121h0M2056 884h0M275 1065h0M1189 1353h0M1555 997h0M815 891h0M826 881h0M1267 1026h0M1270 1030h0M1117 795h0M600 1325h0M1357 1357h0M907 1089h0M904 1083h0M833 1261h0M1445 830h0M1018 802h0M2331 1088h0M1433 1111h0M1847 1107h0M182 874h0M699 1244h0M1150 1313h0M309 1401h0M362 1104h0M185 1226h0M234 1227h0M232 1220h0M686 1085h0M2352 1088h0M1261 931h0M318 1289h0M2232 1059h0M824 1064h0M834 1065h0M826 1071h0M652 910h0M658 907h0M784 1335h0M2277 969h0M826 1134h0M1928 1061h0M1300 1345h0M1370 1089h0M2137 878h0M1470 845h0M873 1289h0M782 1347h0M495 895h0M770 1191h0M776 1186h0M295 1349h0M2449 855h0M2086 786h0M2165 1271h0M2176 756h0M2179 762h0M1475 1350h0M1877 1156h0M1867 1168h0M752 1438h0M1547 843h0M2013 1003h0M1470 995h0M2388 757h0M2025 900h0M335 1289h0M2207 913h0M2021 1420h0M2315 976h0M2107 1328h0M690 1079h0M2137 869h0M782 1269h0M1211 1118h0M1560 1118h0M1570 1334h0M1873 809h0M1931 1051h0M1682 992h0M1506 1349h0M644 984h0M646 1278h0M1171 997h0M2041 1068h0M2238 1410h0M1593 771h0M1017 1176h0M1296 1106h0M530 954h0M304 1365h0M357 816h0M1562 967h0M2021 1253h0M347 1173h0M344 1168h0M966 1282h0M1865 786h0M524 1163h0M514 1419h0M253 1129h0M329 954h0M189 1077h0M485 1109h0M168 1381h0M488 1192h0M1766 1078h0M1729 1353h0M1746 1352h0M1744 1357h0M867 878h0M1585 936h0M1192 1049h0M2098 1169h0M1862 887h0M2294 1124h0M422 1163h0M2448 1224h0M2403 1361h0M2266 1089h0M2269 1084h0M2166 1240h0M2168 1242h0M1525 1043h0M1762 1022h0M1365 793h0M1362 793h0M2427 1255h0M1207 1013h0M2136 1355h0M678 1304h0M687 1305h0M1311 1151h0M1406 1042h0M1068 1112h0M1069 1117h0M2340 956h0M2013 983h0M2023 985h0M1537 779h0M724 804h0M386 1392h0M717 1277h0M920 763h0M2000 1101h0M2079 1332h0M2089 1335h0M2094 1331h0M490 1010h0M498 1005h0M909 1313h0M260 887h0M259 891h0M1108 1152h0M97 867h0M1024 1283h0M203 764h0M1531 1044h0M510 1293h0M2013 1020h0M422 1347h0M1647 1339h0M1235 807h0M1242 802h0M1155 918h0M1963 763h0M1638 1145h0M2112 857h0M989 1208h0M982 1208h0M991 1204h0M2225 1212h0M1376 822h0M1974 871h0M2236 1210h0M1912 951h0M1910 947h0M1589 903h0M298 916h0M1935 1186h0M991 997h0M284 808h0M275 814h0M1666 1035h0M1663 1041h0M1657 1039h0M1402 1270h0M1220 1195h0M1210 1208h0M1437 1297h0M1436 1292h0M289 1110h0M1635 820h0M1626 815h0M422 896h0M581 820h0M726 846h0M684 1171h0M688 1165h0M682 1162h0M960 977h0M681 908h0M1797 927h0M2072 1188h0M2058 1179h0M99 779h0M2444 1045h0M2291 889h0M2256 1049h0M993 1364h0M1507 1027h0M2202 1079h0M427 1209h0M1120 1228h0M1110 1229h0M421 971h0M2012 1215h0M2010 1220h0M2017 1226h0M2025 1227h0M684 779h0M837 874h0M1607 1018h0M534 1355h0M1961 1163h0M1078 1054h0M2249 869h0M1753 1398h0M131 1027h0M127 1023h0M1941 927h0M1931 928h0M578 1087h0M91 823h0M98 822h0M449 1287h0M441 1283h0M432 1287h0M1824 983h0M502 1302h0M776 1044h0M854 1143h0M1538 1176h0M175 1163h0M1613 1280h0M1617 1277h0M1616 1269h0M187 1282h0M1118 1364h0M2225 1255h0M1353 1222h0M205 1276h0M1754 1312h0M531 951h0M426 1231h0M1448 872h0M1893 1100h0M1065 1084h0M1063 1078h0M504 892h0M414 973h0M2253 1087h0M1895 1015h0M1177 1384h0M417 1071h0M1715 921h0M1426 966h0M2065 1042h0M1440 1306h0M1447 1300h0M1802 997h0M1505 1323h0M1393 1387h0M814 1292h0M2371 1292h0M1224 1160h0M1246 1407h0M1538 999h0M1109 951h0M1045 816h0M960 1315h0M562 934h0M775 1122h0M1613 1055h0M516 1122h0M515 1117h0M168 976h0M661 1206h0M1442 996h0M1381 1329h0M950 1069h0M1254 1139h0M200 1188h0M2205 830h0M1561 947h0M2413 1143h0M978 1049h0M2323 768h0M1144 1366h0M141 801h0M1167 1391h0M1475 763h0M1121 1199h0M1990 1415h0M202 1197h0M199 1201h0M961 970h0M953 975h0M961 977h0M963 972h0M376 800h0M2173 1246h0M2179 1245h0M1577 1237h0M1470 1031h0M914 977h0M2210 1149h0M1769 1428h0M177 1239h0M630 1136h0M2173 1205h0M1912 899h0M1903 885h0M1161 775h0M2174 1397h0M765 1231h0M1533 1233h0M1393 830h0M2319 1283h0M420 1167h0M423 1163h0M434 1161h0M2413 1314h0M1328 1172h0M2058 1376h0M1839 842h0M787 954h0M1569 960h0M950 1132h0M920 839h0M1133 1188h0M1072 1421h0M365 1079h0M531 1320h0M524 1407h0M390 1038h0M2351 970h0M2236 1203h0M699 769h0M1290 920h0M755 765h0M1696 924h0M1569 1141h0M2318 931h0M2316 934h0M1780 1378h0M573 1063h0M2160 896h0M1305 1002h0M1315 1000h0M876 1145h0M1803 795h0M1105 1145h0M1342 1128h0M632 1287h0M1939 1101h0M2118 1277h0M2111 1283h0M690 1096h0M1061 1051h0M166 953h0M2295 874h0M1565 934h0M597 994h0M728 908h0M1429 1368h0M1182 959h0M516 1052h0M1617 1309h0M1533 898h0M549 1062h0M1734 1010h0M1732 1016h0M520 1172h0M1202 1067h0M1503 943h0M1505 950h0M1505 944h0M1500 948h0M543 1240h0M876 1005h0M1096 1426h0M944 1375h0M972 1348h0M1109 961h0M1546 1029h0M1472 958h0M1418 1382h0M2397 1211h0M1910 1298h0M2350 751h0M1666 866h0M713 946h0M924 1392h0M2161 873h0M1996 1256h0M1665 1058h0M1660 1061h0M1212 882h0M1615 1105h0M1117 1217h0M680 1198h0M2432 948h0M896 851h0M905 854h0M580 1153h0M884 1419h0M913 1139h0M410 882h0M275 817h0M1338 1191h0M998 1367h0M1914 1392h0M1923 1395h0M492 984h0M476 1203h0M1162 1099h0M111 1177h0M1393 1440h0M208 1162h0M2164 1204h0M1939 781h0M955 1109h0M762 1361h0M762 1372h0M1962 1310h0M1962 1302h0M1972 1302h0M1713 1128h0M1010 1398h0M381 962h0M133 1024h0M1822 1179h0M1147 798h0M1181 831h0M1171 830h0M314 886h0M1925 1395h0M1274 894h0M2309 1440h0M154 1293h0M156 1290h0M1276 1276h0M1291 1275h0M1154 999h0M2222 1201h0M1546 1376h0M1912 1367h0M718 1082h0M607 1031h0M1502 1235h0M2079 1291h0M514 1364h0M2379 1388h0M2041 1103h0M1254 919h0M1636 1178h0M2068 1429h0M1618 1422h0M1968 950h0M1327 1248h0M2434 1106h0M1046 1306h0M2390 1112h0M2381 1114h0M316 1126h0M1610 1230h0M2300 1217h0M1556 1027h0M1562 1028h0M1732 1126h0M1127 1047h0M1832 974h0M2278 1308h0M616 1411h0M906 1313h0M343 1102h0M282 907h0M288 900h0M2402 838h0M2385 838h0M807 992h0M2342 1040h0M681 1062h0M429 1242h0M694 1348h0M2164 1127h0M2207 1136h0M846 1216h0M827 1126h0M2358 1243h0M2360 1250h0M1097 1337h0M296 1339h0M1340 1009h0M1348 1005h0M2374 1049h0M2409 870h0M87 1404h0M87 1398h0M1614 1309h0M1615 1319h0M1814 1096h0M2164 907h0M2160 913h0M2034 771h0M1167 1277h0M2226 1293h0M2221 1295h0M2402 1195h0M2396 1198h0M1456 1325h0M1402 1002h0M263 1020h0M1226 1069h0M1815 1013h0M391 1084h0M391 1080h0M1105 1391h0M458 1188h0M465 1190h0M2263 954h0M884 874h0M1989 1111h0M222 1184h0M218 1188h0M898 849h0M892 853h0M619 1003h0M2297 1358h0M1662 1315h0M1199 858h0M1637 774h0M362 1379h0M1238 1182h0M1233 1186h0M2279 917h0M1301 872h0M1454 1372h0M1988 1171h0M1927 1169h0M1024 989h0M659 1275h0M1164 1152h0M615 925h0M617 920h0" stroke-width="8"/><path d="M638 1135h0M2059 1082h0M1050 861h0M1544 782h0M445 785h0M1550 1411h0M113 1180h0M1831 771h0M1146 913h0M2330 1358h0M1444 772h0M2261 1317h0M2395 1351h0M972 1318h0M1170 927h0M1961 1221h0M2078 840h0M2083 833h0M2085 829h0M1853 868h0M419 822h0M1187 1337h0M347 1366h0M704 1281h0M692 1286h0M686 1284h0M1789 1172h0M1843 1324h0M1461 1197h0M532 1125h0M929 918h0M548 868h0M1619 968h0M897 842h0M2313 780h0M2285 878h0M126 1081h0M2151 1069h0M346 777h0M1133 833h0M1136 829h0M1803 1365h0M299 1259h0M1892 1245h0M1287 1338h0M1179 1216h0M1182 1220h0M2292 1182h0M734 1245h0M743 1240h0M415 1386h0M2435 1233h0M2377 1071h0M2042 987h0M1013 815h0M336 909h0M585 1217h0M607 1319h0M601 1317h0M555 821h0M1820 1384h0M465 1220h0M1849 1102h0M959 786h0M1226 1270h0M997 1317h0M824 1155h0M134 992h0M1505 1217h0M98 1086h0M528 814h0M529 808h0M1266 934h0M594 915h0M548 1031h0M660 913h0M782 1339h0M1845 1310h0M1859 1298h0M1845 1188h0M1851 1188h0M464 1382h0M882 1293h0M940 1415h0M553 939h0M488 893h0M1452 860h0M2167 1271h0M2162 1276h0M1873 1163h0M1789 1120h0M1442 1415h0M1198 1281h0M2026 905h0M1263 863h0M2107 1333h0M835 1159h0M1705 910h0M1866 1231h0M2397 1015h0M2391 1019h0M1955 967h0M784 1265h0M1051 829h0M1687 995h0M1619 1165h0M2233 969h0M206 923h0M637 1279h0M1174 994h0M1157 997h0M1680 1215h0M1562 949h0M349 815h0M1932 963h0M1926 964h0M679 810h0M680 800h0M791 949h0M918 1151h0M1976 959h0M339 1168h0M335 1172h0M529 1158h0M759 1332h0M765 1332h0M756 1336h0M754 1331h0M504 1265h0M166 1235h0M172 1229h0M319 956h0M321 950h0M188 1079h0M1569 943h0M491 1106h0M596 1012h0M1154 1164h0M1885 1282h0M1876 1279h0M1758 1076h0M1736 1350h0M1348 1004h0M1023 890h0M1599 1380h0M470 1019h0M1086 1243h0M1493 811h0M1856 891h0M800 857h0M129 773h0M500 769h0M1366 798h0M1768 839h0M2434 1254h0M2138 1345h0M447 776h0M2401 1067h0M2391 1074h0M2332 1011h0M1075 1124h0M1075 1118h0M1507 793h0M1539 784h0M2429 844h0M723 1272h0M929 766h0M1930 1165h0M1289 1199h0M298 956h0M501 1091h0M1994 760h0M211 763h0M1768 1179h0M1770 1169h0M529 1344h0M2230 1209h0M1949 1162h0M2155 1208h0M2148 1209h0M873 864h0M1330 1051h0M797 1292h0M792 1289h0M787 802h0M783 801h0M1415 1218h0M2143 1124h0M1000 843h0M1226 1333h0M616 1416h0M600 1409h0M2071 1125h0M1394 1141h0M1399 1276h0M2252 1133h0M380 1423h0M2430 877h0M278 1022h0M172 905h0M297 1109h0M1637 815h0M124 1281h0M680 1167h0M763 1176h0M839 1327h0M2288 894h0M2258 1047h0M1319 856h0M215 1149h0M219 1152h0M1500 1032h0M1999 1357h0M737 862h0M737 856h0M1596 1016h0M2170 1028h0M2254 878h0M1895 1249h0M306 1131h0M779 799h0M124 1027h0M1440 1404h0M586 1084h0M573 1090h0M271 855h0M1373 934h0M178 1136h0M171 1137h0M496 797h0M1879 999h0M1540 1168h0M1541 1182h0M429 894h0M2039 1314h0M2056 793h0M2054 799h0M581 1407h0M1153 812h0M2036 1075h0M566 875h0M1750 1311h0M996 931h0M995 935h0M1003 932h0M1449 866h0M2432 889h0M1634 1037h0M2137 871h0M1941 1044h0M1946 1041h0M1943 1039h0M2246 1091h0M413 1078h0M417 1073h0M2164 864h0M1189 884h0M1568 1257h0M1560 1258h0M2071 1071h0M1513 1323h0M2376 1107h0M1587 1025h0M166 970h0M1123 1049h0M1227 1150h0M1320 1281h0M2264 1407h0M1025 981h0M1684 939h0M1553 948h0M1387 852h0M739 930h0M2430 1115h0M151 803h0M83 1168h0M1918 1438h0M207 1202h0M385 797h0M115 1162h0M947 1352h0M958 1352h0M1154 775h0M1145 1006h0M954 886h0M953 879h0M318 1311h0M311 1311h0M312 1304h0M1387 1365h0M1542 1236h0M1527 1232h0M2041 1218h0M2290 1181h0M979 1148h0M1250 1226h0M1803 901h0M744 844h0M742 848h0M1772 958h0M494 804h0M820 1068h0M428 1250h0M1651 1267h0M2065 1372h0M1560 960h0M927 837h0M380 1309h0M2174 959h0M689 768h0M680 769h0M288 1160h0M1808 1199h0M1702 919h0M1704 925h0M2317 940h0M1700 998h0M564 1066h0M1975 800h0M1977 808h0M2165 892h0M343 782h0M732 853h0M878 1158h0M872 1152h0M1716 1054h0M1143 1169h0M1111 1142h0M1836 864h0M1974 773h0M185 882h0M110 1162h0M1298 1254h0M1457 1365h0M589 1189h0M593 1196h0M1341 796h0M1352 796h0M84 1186h0M1408 1322h0M172 886h0M588 990h0M369 955h0M363 956h0M2303 826h0M1066 1202h0M1151 1295h0M1834 820h0M2054 1394h0M404 1339h0M523 1051h0M1524 897h0M2069 1349h0M1418 1340h0M388 1185h0M519 1168h0M835 1293h0M1212 1068h0M1992 981h0M138 1037h0M131 1033h0M1067 1374h0M1752 808h0M969 1343h0M977 1345h0M579 1350h0M608 1127h0M2393 1215h0M2402 1210h0M1735 944h0M699 971h0M713 948h0M927 1399h0M2080 1041h0M2154 874h0M2352 1309h0M677 1194h0M2425 950h0M2432 998h0M2436 993h0M1692 1390h0M2004 1294h0M578 1161h0M2391 1045h0M1851 1093h0M1467 1402h0M1355 1305h0M730 1155h0M1181 813h0M1937 786h0M1949 779h0M1722 1316h0M764 1367h0M2120 907h0M905 780h0M2043 1401h0M1775 1306h0M926 1334h0M1941 832h0M1368 1215h0M2185 1212h0M1428 1334h0M1034 1210h0M2228 889h0M1814 980h0M2094 786h0M1997 1434h0M630 813h0M1241 985h0M415 1061h0M1974 1233h0M1284 1280h0M1901 1366h0M2111 971h0M907 1202h0M2373 1382h0M2372 1390h0M1463 1243h0M1263 910h0M241 1000h0M246 996h0M1635 1166h0M1900 800h0M1581 949h0M1181 1119h0M714 1217h0M1019 1203h0M1976 946h0M1698 883h0M299 1129h0M1599 907h0M2366 1400h0M231 824h0M2068 1104h0M2085 1226h0M1269 831h0M2247 911h0M284 912h0M295 904h0M2394 835h0M804 998h0M799 1002h0M796 996h0M1451 828h0M1877 1288h0M821 828h0M1469 939h0M689 1059h0M835 1129h0M836 1120h0M265 789h0M2355 1247h0M655 1152h0M1097 1329h0M1093 1333h0M296 1345h0M1274 1197h0M1706 1375h0M1701 1380h0M403 1103h0M1821 1100h0M1823 1101h0M398 1045h0M1702 982h0M2026 770h0M2222 1289h0M1999 1397h0M1611 1028h0M1417 998h0M94 1038h0M1631 958h0M321 1404h0M1532 962h0M1537 966h0M393 835h0M2261 1040h0M76 782h0M1821 1356h0M2281 1165h0M2283 911h0M2285 911h0M1307 872h0M1316 873h0M1924 1439h0M894 1275h0M1280 1040h0M1277 1047h0M2405 1240h0M2400 1235h0M1774 1129h0M302 805h0M1619 1353h0M1168 1155h0M1599 998h0" stroke-width="10"/><path d="M2227 1231h0M2243 1224h0M1491 965h0M1824 972h0M2070 884h0M894 846h0M1065 1048h0M1482 952h0M1531 994h0M910 893h0M1088 1365h0M176 820h0M321 1283h0M427 823h0M776 1247h0M1177 1338h0M346 1371h0M1869 1140h0M1420 1423h0M2147 1239h0M1778 1271h0M605 758h0M158 794h0M2289 872h0M131 1084h0M1071 1300h0M339 772h0M1885 1244h0M1907 1080h0M1186 1219h0M1044 1001h0M1843 1339h0M417 844h0M549 1170h0M553 1177h0M1322 1067h0M2268 1128h0M2169 1019h0M1331 897h0M1549 1003h0M1260 1023h0M1126 795h0M552 829h0M469 826h0M455 851h0M554 1028h0M2407 852h0M1932 1064h0M2144 881h0M1460 837h0M1252 1120h0M298 1274h0M755 1445h0M1433 1414h0M1893 1285h0M1234 797h0M1478 998h0M215 1361h0M334 1300h0M338 1295h0M2199 918h0M2025 1416h0M1460 800h0M1037 864h0M2127 926h0M887 879h0M2209 1149h0M1891 811h0M1928 1063h0M838 1381h0M1731 996h0M1683 1210h0M1674 1212h0M1347 1240h0M1556 964h0M525 1404h0M2026 1251h0M1991 1163h0M2048 1064h0M193 1073h0M189 1072h0M1155 1071h0M160 1383h0M2385 835h0M741 1347h0M747 1346h0M2375 1318h0M2294 1130h0M2321 1254h0M2325 1257h0M123 778h0M2398 1358h0M2142 1350h0M340 1029h0M138 1299h0M2230 934h0M443 775h0M2400 1073h0M2016 988h0M1688 904h0M934 760h0M1996 1097h0M253 889h0M2349 1306h0M2355 963h0M723 866h0M2236 977h0M1776 1173h0M1215 999h0M614 890h0M1963 756h0M1866 1228h0M1918 1239h0M1871 1207h0M1878 1209h0M790 795h0M904 1204h0M999 992h0M275 812h0M2002 1053h0M296 1119h0M1402 1138h0M1400 1142h0M1210 1195h0M1213 1201h0M2214 1128h0M2216 1122h0M270 1023h0M283 1028h0M860 1319h0M431 901h0M966 981h0M293 1214h0M2286 886h0M896 1228h0M1896 1324h0M1108 1235h0M1971 1182h0M1085 1057h0M2252 876h0M1895 1241h0M798 1042h0M790 1038h0M928 904h0M1747 1403h0M2038 1235h0M282 855h0M272 1143h0M2031 1316h0M712 990h0M1146 818h0M1770 1105h0M133 1082h0M126 1086h0M415 864h0M1056 1184h0M1942 1035h0M341 1298h0M343 1306h0M1800 1205h0M1435 1303h0M1545 996h0M2381 1111h0M773 1115h0M535 1090h0M467 1242h0M2082 1298h0M2072 1299h0M1324 1286h0M1315 1277h0M2273 1411h0M1373 1327h0M864 770h0M1264 1135h0M1558 953h0M2407 1139h0M1510 785h0M1510 776h0M2018 992h0M146 797h0M109 1168h0M2282 1108h0M1584 1239h0M1760 1427h0M557 1407h0M238 924h0M235 919h0M2287 1177h0M1126 1100h0M868 911h0M1773 962h0M927 1305h0M715 1443h0M822 1062h0M962 1043h0M1630 830h0M1624 827h0M1622 835h0M957 1136h0M1121 1130h0M1137 1130h0M1117 993h0M1775 1377h0M1036 940h0M1599 1207h0M1610 1203h0M1278 812h0M1620 871h0M1608 1282h0M410 1286h0M1089 1372h0M379 1189h0M1791 1032h0M2206 1284h0M1525 1318h0M1222 1318h0M128 816h0M1115 898h0M1107 900h0M2398 1218h0M2008 885h0M506 1191h0M501 1195h0M424 1405h0M2348 758h0M1668 1055h0M1363 972h0M1612 1118h0M2234 887h0M581 1170h0M2400 1048h0M1330 1196h0M485 983h0M478 1211h0M1975 1139h0M1197 1079h0M1853 1188h0M1354 1304h0M1359 1294h0M2406 1443h0M922 1338h0M629 996h0M1142 1390h0M187 773h0M1963 1305h0M2178 1216h0M390 855h0M397 857h0M1200 1083h0M2226 882h0M2220 883h0M1810 975h0M1156 796h0M1756 803h0M1274 889h0M635 815h0M2228 1194h0M2229 1189h0M615 1027h0M2041 1096h0M1256 915h0M1635 1173h0M2052 1421h0M1562 1180h0M1180 1115h0M2388 1112h0M675 994h0M2057 1097h0M2431 795h0M2175 1225h0M1451 832h0M1017 1068h0M2169 1124h0M1389 1078h0M658 1146h0M1234 1204h0M1267 1198h0M2257 883h0M2418 873h0M81 1398h0M1614 1312h0M234 816h0M1695 978h0M1981 1078h0M1532 1116h0M1219 1068h0M395 1081h0M1322 926h0M2209 1041h0M1124 937h0M1118 941h0M469 1190h0M1538 958h0M1193 853h0M1195 853h0M2267 1039h0M2150 1397h0M962 1321h0M953 1321h0M1825 1362h0M888 1255h0M96 999h0M1285 1046h0M1996 1165h0M1779 1125h0M311 802h0M1928 1162h0M1302 936h0M1167 1157h0" stroke-width="12"/><path d="M584 1338h0M839 1295h0M1170 1342h0M631 1256h0M2193 1212h0M556 923h0M893 821h0M1467 764h0M1821 1360h0M1890 1243h0M501 1031h0M1850 1340h0M983 831h0M270 1063h0M1821 1390h0M182 868h0M149 1117h0M387 1192h0M2413 857h0M786 1340h0M1777 782h0M2077 1404h0M1474 1356h0M475 1289h0M666 1077h0M2200 913h0M635 1046h0M1713 904h0M1642 1382h0M1685 1001h0M2404 781h0M1135 1140h0M1883 809h0M2176 1046h0M581 1104h0M178 819h0M1859 849h0M1982 967h0M252 1135h0M2221 940h0M596 1017h0M1342 1006h0M1902 1355h0M2094 1173h0M1862 891h0M2330 1254h0M2160 1244h0M2350 954h0M932 761h0M2143 1361h0M2419 835h0M91 864h0M499 1085h0M2201 1325h0M162 1143h0M1224 996h0M616 895h0M1003 836h0M596 1404h0M1395 1136h0M795 1314h0M1268 1355h0M2067 1186h0M906 1229h0M983 1366h0M739 870h0M785 1041h0M207 1088h0M622 935h0M628 941h0M512 1435h0M2029 1321h0M180 1284h0M2434 1197h0M1154 1018h0M994 874h0M823 1296h0M660 1190h0M1312 1283h0M1069 1344h0M806 778h0M136 797h0M2124 864h0M874 916h0M502 801h0M708 1440h0M437 1165h0M276 1121h0M1862 1075h0M2121 1403h0M96 1034h0M1460 1222h0M1135 999h0M1115 985h0M1114 956h0M1062 1059h0M599 1203h0M1565 926h0M1380 1139h0M2293 829h0M1962 1324h0M319 971h0M1143 1095h0M1534 1317h0M1478 996h0M1498 1269h0M1507 1271h0M1547 1421h0M465 1142h0M2002 1256h0M800 1319h0M1346 1188h0M1847 1087h0M948 800h0M1918 1400h0M868 1174h0M2082 1363h0M1392 1432h0M1397 1428h0M210 1167h0M1417 1157h0M1365 1222h0M1209 1085h0M2062 978h0M1346 926h0M2087 1288h0M1254 925h0M2023 1449h0M328 1277h0M835 917h0M305 1127h0M1605 907h0M2299 1211h0M2064 1098h0M1660 1275h0M610 857h0M663 1148h0M734 1222h0M895 1276h0M902 1284h0M2035 776h0M2377 1153h0M1820 1015h0M399 1080h0M1330 927h0M329 1402h0M136 1425h0M1019 1161h0M666 1306h0M1717 1096h0M1604 1000h0" stroke-width="15"/></g></g>
<path d="M89.0,1532.0C98.0,1530.4 145.5,1521.9 164.0,1519.0C182.5,1516.1 214.7,1511.2 243.0,1508.0C271.3,1504.8 357.2,1495.0 400.0,1492.0C442.8,1489.0 552.0,1484.0 600.0,1483.0C648.0,1482.0 749.7,1482.2 800.0,1484.0C850.3,1485.8 988.6,1495.9 1019.0,1498.0C1049.4,1500.1 1036.9,1498.9 1053.0,1501.3C1069.1,1503.7 1128.9,1516.4 1153.0,1518.0C1177.1,1519.6 1227.8,1515.1 1254.0,1514.7C1280.2,1514.3 1340.9,1514.5 1371.0,1514.7C1401.1,1514.9 1478.8,1516.0 1505.0,1516.4C1531.2,1516.8 1571.6,1519.5 1589.0,1518.0C1606.4,1516.5 1632.7,1508.0 1650.0,1503.5C1667.3,1499.0 1715.1,1483.5 1733.0,1480.5C1750.9,1477.5 1779.2,1480.2 1799.0,1478.5C1818.8,1476.8 1876.2,1469.0 1898.0,1466.3C1919.8,1463.6 1967.1,1457.3 1981.0,1456.3C1994.9,1455.3 1998.0,1454.8 2014.0,1458.0C2030.0,1461.2 2088.1,1476.1 2114.0,1482.8C2139.9,1489.5 2206.2,1511.2 2230.0,1513.5C2253.8,1515.8 2293.6,1505.3 2312.0,1501.9C2330.4,1498.5 2370.0,1487.3 2383.0,1485.3C2396.0,1483.3 2400.7,1482.9 2420.0,1485.3C2439.3,1487.7 2512.2,1503.0 2544.0,1505.2C2575.8,1507.4 2651.2,1505.7 2685.0,1503.5C2718.8,1501.3 2803.1,1488.0 2826.0,1487.0C2848.9,1486.0 2854.2,1491.4 2876.0,1495.2C2897.8,1499.0 2969.4,1517.3 3008.0,1518.4C3046.6,1519.5 3174.8,1506.0 3197.5,1504.3V3206H89Z" fill="url(#gl2)"/>
<path d="M30.0,2653.0C39.8,2648.2 72.0,2632.7 89.0,2624.5C106.0,2616.3 116.2,2611.8 132.0,2604.0C147.8,2596.2 166.3,2586.7 183.5,2578.0C200.7,2569.3 217.8,2560.2 235.0,2552.0C252.2,2543.8 269.7,2537.7 287.0,2529.0C304.3,2520.3 321.7,2510.0 339.0,2500.0C356.3,2490.0 373.8,2478.4 391.0,2469.0C408.2,2459.6 424.8,2451.1 442.0,2443.4C459.2,2435.7 476.7,2428.8 494.0,2422.7C511.3,2416.6 528.7,2411.2 546.0,2407.0C563.3,2402.8 580.8,2400.5 598.0,2397.8C615.2,2395.1 631.8,2392.9 649.0,2390.6C666.2,2388.3 683.7,2386.3 701.0,2384.0C718.3,2381.7 735.7,2378.8 753.0,2377.0C770.3,2375.2 789.5,2374.2 805.0,2373.5C820.5,2372.8 828.8,2372.1 846.0,2373.0C863.2,2373.9 889.0,2377.3 908.0,2378.7C927.0,2380.1 942.7,2380.4 960.0,2381.3C977.3,2382.2 992.0,2383.1 1012.0,2384.0C1032.0,2384.9 1064.8,2385.7 1080.0,2386.5C1095.2,2387.3 1081.8,2389.8 1103.0,2389.0C1124.2,2388.2 1176.7,2384.9 1207.0,2382.0C1237.3,2379.1 1259.2,2377.3 1285.0,2371.7C1310.8,2366.1 1340.5,2355.7 1362.0,2348.4C1383.5,2341.1 1396.7,2334.6 1414.0,2327.7C1431.3,2320.8 1448.7,2313.9 1466.0,2307.0C1483.3,2300.1 1500.8,2293.2 1518.0,2286.3C1535.2,2279.4 1551.8,2272.1 1569.0,2265.6C1586.2,2259.1 1603.7,2253.5 1621.0,2247.5C1638.3,2241.5 1655.7,2234.6 1673.0,2229.4C1690.3,2224.2 1707.8,2220.4 1725.0,2216.5C1742.2,2212.6 1758.8,2209.0 1776.0,2206.0C1793.2,2203.0 1810.7,2200.4 1828.0,2198.3C1845.3,2196.2 1862.7,2194.8 1880.0,2193.2C1897.3,2191.6 1915.7,2189.9 1932.0,2188.5C1948.3,2187.1 1957.5,2186.5 1978.0,2184.6C1998.5,2182.7 2029.2,2179.8 2055.0,2176.8C2080.8,2173.8 2107.0,2170.8 2133.0,2166.5C2159.0,2162.2 2189.5,2155.8 2211.0,2151.0C2232.5,2146.2 2244.8,2142.3 2262.0,2138.0C2279.2,2133.7 2296.7,2128.9 2314.0,2125.0C2331.3,2121.1 2348.7,2117.4 2366.0,2114.7C2383.3,2111.9 2400.8,2109.4 2418.0,2108.5C2435.2,2107.6 2451.8,2108.5 2469.0,2109.5C2486.2,2110.5 2503.7,2112.1 2521.0,2114.7C2538.3,2117.3 2555.7,2121.1 2573.0,2125.0C2590.3,2128.9 2607.8,2132.4 2625.0,2138.0C2642.2,2143.6 2658.8,2151.8 2676.0,2158.7C2693.2,2165.6 2714.2,2172.9 2728.0,2179.4C2741.8,2185.9 2751.6,2191.4 2759.0,2197.5C2766.4,2203.6 2771.6,2208.7 2772.5,2216.0C2773.4,2223.3 2770.1,2231.2 2764.4,2241.5C2758.7,2251.8 2749.7,2264.8 2738.5,2277.7C2727.3,2290.6 2711.7,2306.1 2697.0,2319.0C2682.3,2331.9 2666.8,2345.0 2650.5,2355.4C2634.2,2365.8 2616.2,2373.5 2599.0,2381.3C2581.8,2389.1 2564.3,2395.6 2547.0,2402.0C2529.7,2408.4 2512.2,2414.0 2495.0,2420.0C2477.8,2426.0 2460.7,2431.5 2443.5,2438.0C2426.3,2444.5 2409.2,2451.7 2392.0,2459.0C2374.8,2466.3 2357.3,2474.7 2340.0,2482.0C2322.7,2489.3 2305.3,2496.1 2288.0,2503.0C2270.7,2509.9 2253.2,2517.6 2236.0,2523.6C2218.8,2529.6 2202.2,2534.3 2185.0,2539.0C2167.8,2543.7 2150.3,2548.5 2133.0,2552.0C2115.7,2555.5 2102.6,2557.9 2081.0,2559.8C2059.4,2561.7 2028.3,2563.0 2003.5,2563.5C1978.7,2564.0 1961.2,2563.2 1932.0,2563.0C1902.8,2562.8 1862.5,2562.0 1828.0,2562.2C1793.5,2562.4 1759.5,2563.7 1725.0,2564.3C1690.5,2564.9 1655.5,2565.1 1621.0,2565.8C1586.5,2566.5 1543.8,2567.1 1518.0,2568.4C1492.2,2569.7 1483.3,2571.0 1466.0,2573.6C1448.7,2576.2 1431.3,2579.3 1414.0,2584.0C1396.7,2588.7 1379.2,2594.7 1362.0,2602.0C1344.8,2609.3 1328.2,2618.5 1311.0,2628.0C1293.8,2637.5 1276.3,2648.7 1259.0,2659.0C1241.7,2669.3 1224.3,2679.7 1207.0,2690.0C1189.7,2700.3 1172.2,2711.5 1155.0,2721.0C1137.8,2730.5 1120.7,2740.1 1103.5,2747.0C1086.3,2753.9 1069.2,2758.6 1052.0,2762.5C1034.8,2766.4 1015.3,2768.7 1000.0,2770.3C984.7,2771.9 975.3,2770.8 960.0,2772.0C944.7,2773.2 925.3,2775.5 908.0,2777.2C890.7,2778.9 873.2,2780.7 856.0,2782.4C838.8,2784.1 822.2,2786.3 805.0,2787.6C787.8,2788.9 770.3,2789.1 753.0,2790.2C735.7,2791.3 718.3,2793.0 701.0,2794.3C683.7,2795.6 666.2,2796.6 649.0,2798.0C631.8,2799.4 615.2,2800.8 598.0,2803.0C580.8,2805.2 563.3,2808.0 546.0,2811.0C528.7,2814.0 511.3,2816.9 494.0,2821.2C476.7,2825.5 459.2,2830.6 442.0,2836.7C424.8,2842.8 408.2,2850.2 391.0,2857.5C373.8,2864.8 356.3,2872.9 339.0,2880.7C321.7,2888.4 304.3,2896.7 287.0,2904.0C269.7,2911.3 254.0,2917.0 235.0,2924.7C216.0,2932.4 197.3,2942.7 173.0,2950.0C148.7,2957.3 112.8,2963.3 89.0,2968.5C65.2,2973.7 39.8,2978.9 30.0,2981.0Z" fill="url(#pres)"/>
<path d="M89,742.85H2900" stroke="#fff" stroke-width="1.7" stroke-dasharray="12.2 3.95" stroke-dashoffset="7.35" fill="none"/><path d="M89,1248.6H2900" stroke="#fff" stroke-width="1.7" stroke-dasharray="12.2 3.95" stroke-dashoffset="7.35" fill="none"/><path d="M89,1819.7H2900" stroke="#fff" stroke-width="1.7" stroke-dasharray="12.2 3.95" stroke-dashoffset="7.35" fill="none"/><path d="M89,2386.7H2900" stroke="#fff" stroke-width="1.7" stroke-dasharray="12.2 3.95" stroke-dashoffset="7.35" fill="none"/>
<g fill="#2d1e0f"><path d="M660,686V561L673.2,562.9L676.8,566.2L675,575.5L676.8,587.5L675,601L676.8,615L675.2,627.3L676.8,638.2L675.2,650.6L676.8,662.5L675.2,670.8L677.1,686Z"/><rect x="1544.9" y="680" width="52" height="6"/><g transform="translate(961.7,424.5) scale(0.181)"><path d="M456.2,1444.8L458.6,1369L462.1,1360.7V1307.1L468.6,1291.7L466.2,1289.3V1276.2L473.3,1281L479.3,1248.1L487.6,1281L493.3,1248.1L502.4,1285.7L513.1,1255.2H676.4L682.9,1268.6L690,1176.2L699.5,1183.8L710.3,1032H717.3L729.3,1183.8L740,1176.2L749.5,1301.2L755.5,1310.7L763.8,1444.8Z"/><circle cx="713.8" cy="1025.7" r="5.3"/><path d="M707.1,1033.5H720.5M706.3,1043.8H721.3M705.5,1054.2H722.1M704.8,1064.5H722.8M704.0,1074.9H723.6M703.2,1085.2H724.4M702.5,1095.6H725.1M701.7,1106.0H725.9M700.9,1116.3H726.7M700.2,1126.7H727.4M699.4,1137.0H728.2M698.6,1147.3H729.0M697.8,1157.7H729.8M697.1,1168.0H730.5" stroke="#2d1e0f" stroke-width="2.6" fill="none"/></g></g>
<path d="M1032,610.7L402.3,1051.1L1028.9,1442.7L1148.3,683.4A74.5,74.5 0 1 1 1032,610.7Z" fill="#fff" opacity=".54"/>
<path d="M1554.3,688V1140C1554.3,1240 1497,1328 1440,1400L435.2,2660.5" stroke="#fff" stroke-width="8.8" stroke-dasharray="24 7.75" stroke-dashoffset="12" fill="none"/><path d="M1588.5,688V1140C1588.5,1240 1645.8,1328 1702.8,1400L2398.3,2272.8" stroke="#fff" stroke-width="8.8" stroke-dasharray="24 7.75" stroke-dashoffset="12" fill="none"/><circle cx="435.2" cy="2660.5" r="19.6" fill="#fff"/><circle cx="2398.3" cy="2272.8" r="19.6" fill="#fff"/><path d="M935.2,1921.8L1113,1697.8" stroke="#fff" stroke-width="6.2" fill="none"/><path d="M1143.2,1660.1L1088,1682L1135,1718.9Z" fill="#fff"/><path d="M1998.4,1660.1L2176,1883.6" stroke="#fff" stroke-width="6.2" fill="none"/><path d="M2206.1,1921.3L2150.6,1899.5L2197.8,1862.9Z" fill="#fff"/>
<circle cx="1074.7" cy="671.8" r="73.6" fill="none" stroke="#2d1e0f" stroke-width="1.9"/>
<g clip-path="url(#cpbig)"><rect x="220" y="970" width="830" height="830" fill="url(#gbig)"/><g fill="#2d1e0f"><path d="M456.2,1444.8L458.6,1369L462.1,1360.7V1307.1L468.6,1291.7L466.2,1289.3V1276.2L473.3,1281L479.3,1248.1L487.6,1281L493.3,1248.1L502.4,1285.7L513.1,1255.2H676.4L682.9,1268.6L690,1176.2L699.5,1183.8L710.3,1032H717.3L729.3,1183.8L740,1176.2L749.5,1301.2L755.5,1310.7L763.8,1444.8Z"/><circle cx="713.8" cy="1025.7" r="5.3"/><path d="M707.1,1033.5H720.5M706.3,1043.8H721.3M705.5,1054.2H722.1M704.8,1064.5H722.8M704.0,1074.9H723.6M703.2,1085.2H724.4M702.5,1095.6H725.1M701.7,1106.0H725.9M700.9,1116.3H726.7M700.2,1126.7H727.4M699.4,1137.0H728.2M698.6,1147.3H729.0M697.8,1157.7H729.8M697.1,1168.0H730.5" stroke="#2d1e0f" stroke-width="2.6" fill="none"/></g><rect x="220" y="1451.5" width="830" height="22" fill="#7bbcc5"/><rect x="220" y="1444.2" width="830" height="7.8" fill="#2fa550"/><rect x="220" y="1473.3" width="830" height="281.5" fill="#cbb492"/><rect x="220" y="1754.8" width="830" height="40" fill="#d9cbc0"/><rect x="220" y="1500.6" width="830" height="25.6" fill="#fff"/><path d="M220,1506.6H461Q466,1506.6 466.6,1511L468.7,1526.2H220Z" fill="#a19d9d"/></g><circle cx="632.3" cy="1380.2" r="398.4" fill="none" stroke="#2d1e0f" stroke-width="6.4"/><g fill="#2d1e0f" stroke="#2d1e0f" stroke-width="1.8"><circle cx="512.5" cy="1513.4" r="6.6" stroke="none"/><path d="M512.5,1513.4V1573.5"/><circle cx="766.2" cy="1462.4" r="6.6" stroke="none"/><path d="M766.2,1462.4V1575"/></g>
</g>
<path d="M2877,89.2L3065,87V80H3215V3215H2877Z M80,3014.5H2877V3215H80Z" fill="#fff" opacity=".70"/>
<g stroke="#2d1e0f" fill="none"><path d="M2902.9,685.6V2669.8" stroke-width="2.4"/><path d="M2887,685.6H2921M2887,742.5H2921M2887,1252.7H2921M2887,1819.7H2921M2887,2386.4H2921M2887,2669.8H2921" stroke-width="2.2"/><path d="M441.3,3045H2709.3" stroke-width="2.4"/><path d="M441.3,3029.3V3062.8M2709.3,3029.3V3062.8" stroke-width="2.2"/></g>
<g stroke="#2d1e0f" stroke-width="1.8" fill="none"><path d="M669.1,351.7V544.8M1075.6,351.7V593.7M1571.4,352V644.7"/><path d="M1971.7,698V807.7M2459.5,689.4V807.2M1680.2,1365.8H1806.2"/></g><g fill="#2d1e0f"><circle cx="1971.7" cy="698" r="3.3"/><circle cx="2459.5" cy="689.4" r="3.3"/><circle cx="1680.2" cy="1365.8" r="3.3"/></g><g stroke="#2d1e0f" stroke-width="4.2" fill="none"><circle cx="2207.5" cy="1365.6" r="17.6"/><path d="M2185.3,1388L2229.3,1343.6"/></g><rect x="1939.9" y="986.3" width="64" height="64.7" rx="6" fill="#3a72b8"/><path d="M1952.8,996.6h11.8v26.5q0,7.4 7.3,7.4q7.4,0 7.4,-7.4v-26.5h11.8v27q0,17 -19.2,17q-19.1,0 -19.1,-17Z" fill="#fff"/>
<text transform="translate(196.30,261.9) scale(0.8461,1)" font-size="94" font-weight="normal" fill="#2d1e0f" stroke="#2d1e0f" stroke-width="0.5">W</text>
<text transform="translate(283.00,261.9) scale(1.0000,1)" font-size="94" font-weight="normal" fill="#2d1e0f" stroke="#2d1e0f" stroke-width="0.5">I</text>
<text transform="translate(323.28,261.9) scale(0.7173,1)" font-size="94" font-weight="normal" fill="#2d1e0f" stroke="#2d1e0f" stroke-width="0.5">E</text>
<text transform="translate(380.71,261.9) scale(0.8278,1)" font-size="94" font-weight="normal" fill="#2d1e0f" stroke="#2d1e0f" stroke-width="0.5">N</text>
<text transform="translate(550.66,261.7) scale(0.8686,1)" font-size="64" font-weight="normal" fill="#2d1e0f" stroke="#2d1e0f" stroke-width="0.5" letter-spacing="2.0">DC-Tower</text>
<text transform="translate(570.36,336.2) scale(1.0353,1)" font-size="64" font-weight="normal" fill="#2d1e0f" stroke="#2d1e0f" stroke-width="0.5">(</text>
<text transform="translate(592.14,336.2) scale(1.2778,1)" font-size="64" font-weight="normal" fill="#2d1e0f" stroke="#2d1e0f" stroke-width="0.5" letter-spacing="2.0"><tspan font-size="48.00" stroke-width="1.3">2</tspan><tspan font-size="48.00" stroke-width="1.3">2</tspan><tspan font-size="48.00" stroke-width="1.3">0</tspan></text>
<text transform="translate(716.29,336.2) scale(0.9778,1)" font-size="64" font-weight="normal" fill="#2d1e0f" stroke="#2d1e0f" stroke-width="0.5">m</text>
<text transform="translate(767.60,336.2) scale(1.0056,1)" font-size="64" font-weight="normal" fill="#2d1e0f" stroke="#2d1e0f" stroke-width="0.5">)</text>
<text transform="translate(877.84,261.7) scale(0.9547,1)" font-size="64" font-weight="normal" fill="#2d1e0f" stroke="#2d1e0f" stroke-width="0.5" letter-spacing="2.0">Stephansdom</text>
<text transform="translate(973.00,336.2) scale(1.0000,1)" font-size="64" font-weight="normal" fill="#2d1e0f" stroke="#2d1e0f" stroke-width="0.5">(</text>
<text transform="translate(995.67,336.2) scale(0.9427,1)" font-size="64" font-weight="normal" fill="#2d1e0f" stroke="#2d1e0f" stroke-width="0.5" letter-spacing="2.0"><tspan font-size="48.00" stroke-width="1.3">1</tspan><tspan dy="11.91">3</tspan><tspan dy="-11.91">&#8203;</tspan>6</text>
<text transform="translate(1107.09,336.2) scale(0.9778,1)" font-size="64" font-weight="normal" fill="#2d1e0f" stroke="#2d1e0f" stroke-width="0.5">m</text>
<text transform="translate(1158.90,336.2) scale(0.9667,1)" font-size="64" font-weight="normal" fill="#2d1e0f" stroke="#2d1e0f" stroke-width="0.5">)</text>
<text transform="translate(1312.67,261.6) scale(0.9426,1)" font-size="64" font-weight="normal" fill="#2d1e0f" stroke="#2d1e0f" stroke-width="0.5" letter-spacing="2.0">Geothermieanlage</text>
<text transform="translate(1479.51,336) scale(1.0235,1)" font-size="64" font-weight="normal" fill="#2d1e0f" stroke="#2d1e0f" stroke-width="0.5">(</text>
<text transform="translate(1502.21,336) scale(1.1294,1)" font-size="64" font-weight="normal" fill="#2d1e0f" stroke="#2d1e0f" stroke-width="0.5" letter-spacing="2.0"><tspan font-size="48.00" stroke-width="1.3">1</tspan><tspan font-size="48.00" stroke-width="1.3">0</tspan></text>
<text transform="translate(1584.31,336) scale(0.9467,1)" font-size="64" font-weight="normal" fill="#2d1e0f" stroke="#2d1e0f" stroke-width="0.5">m</text>
<text transform="translate(1634.30,336) scale(0.9389,1)" font-size="64" font-weight="normal" fill="#2d1e0f" stroke="#2d1e0f" stroke-width="0.5">)</text>
<text transform="translate(1785.90,872.6) scale(0.9194,1)" font-size="64" font-weight="normal" fill="#2d1e0f" stroke="#2d1e0f" stroke-width="0.5" letter-spacing="2.0">U-Bahn-Netz</text>
<text transform="translate(1833.75,946.5) scale(0.9631,1)" font-size="64" font-weight="normal" fill="#2d1e0f" stroke="#2d1e0f" stroke-width="0.5" letter-spacing="2.0">(bis</text>
<text transform="translate(1956.24,946.5) scale(0.8812,1)" font-size="64" font-weight="normal" fill="#2d1e0f" stroke="#2d1e0f" stroke-width="0.5" letter-spacing="2.0"><tspan dy="11.91">3</tspan><tspan dy="-11.91">&#8203;</tspan><tspan dy="11.91">5</tspan><tspan dy="-11.91">&#8203;</tspan></text>
<text transform="translate(2037.02,946.5) scale(0.9449,1)" font-size="64" font-weight="normal" fill="#2d1e0f" stroke="#2d1e0f" stroke-width="0.5" letter-spacing="2.0">m)</text>
<text transform="translate(2272.09,872) scale(0.9355,1)" font-size="64" font-weight="normal" fill="#2d1e0f" stroke="#2d1e0f" stroke-width="0.5" letter-spacing="2.0">Grundwasser</text>
<text transform="translate(2321.53,946) scale(0.9670,1)" font-size="64" font-weight="normal" fill="#2d1e0f" stroke="#2d1e0f" stroke-width="0.5" letter-spacing="2.0">(bis</text>
<text transform="translate(2442.19,946) scale(1.1686,1)" font-size="64" font-weight="normal" fill="#2d1e0f" stroke="#2d1e0f" stroke-width="0.5" letter-spacing="2.0"><tspan font-size="48.00" stroke-width="1.3">1</tspan><tspan font-size="48.00" stroke-width="1.3">0</tspan></text>
<text transform="translate(2525.51,946) scale(0.9464,1)" font-size="64" font-weight="normal" fill="#2d1e0f" stroke="#2d1e0f" stroke-width="0.5" letter-spacing="2.0">m)</text>
<text transform="translate(1826.84,1383.6) scale(0.9527,1)" font-size="64" font-weight="normal" fill="#2d1e0f" stroke="#2d1e0f" stroke-width="0.5" letter-spacing="2.0">Bohrung</text>
<text transform="translate(2086.97,1383.6) scale(0.9159,1)" font-size="64" font-weight="normal" fill="#2d1e0f" stroke="#2d1e0f" stroke-width="0.5" letter-spacing="2.0">ca.</text>
<text transform="translate(2244.08,1383.6) scale(1.0590,1)" font-size="64" font-weight="normal" fill="#2d1e0f" stroke="#2d1e0f" stroke-width="0.5" letter-spacing="2.0"><tspan dy="11.91">3</tspan><tspan dy="-11.91">&#8203;</tspan><tspan font-size="48.00" stroke-width="1.3">0</tspan></text>
<text transform="translate(2333.20,1383.6) scale(0.9025,1)" font-size="64" font-weight="normal" fill="#2d1e0f" stroke="#2d1e0f" stroke-width="0.5" letter-spacing="2.0">cm</text>
<text transform="translate(397.22,1628.2) scale(0.9165,1)" font-size="64" font-weight="normal" fill="#2d1e0f" stroke="#2d1e0f" stroke-width="0.5" letter-spacing="2.0">U-Bahn-</text>
<text transform="translate(442.71,1693.3) scale(0.9185,1)" font-size="64" font-weight="normal" fill="#2d1e0f" stroke="#2d1e0f" stroke-width="0.5" letter-spacing="2.0">Netz</text>
<text transform="translate(664.14,1628.2) scale(0.9196,1)" font-size="64" font-weight="normal" fill="#2d1e0f" stroke="#2d1e0f" stroke-width="0.5" letter-spacing="2.0">Grund-</text>
<text transform="translate(664.60,1693.3) scale(0.9193,1)" font-size="64" font-weight="normal" fill="#2d1e0f" stroke="#2d1e0f" stroke-width="0.5" letter-spacing="2.0">wasser</text>
<text transform="translate(3033.59,703.9) scale(1.2080,1)" font-size="64" font-weight="normal" fill="#2d1e0f" stroke="#2d1e0f" stroke-width="0.5"><tspan font-size="48.00" stroke-width="1.3">0</tspan></text>
<text transform="translate(3083.10,703.9) scale(0.9489,1)" font-size="64" font-weight="normal" fill="#2d1e0f" stroke="#2d1e0f" stroke-width="0.5">m</text>
<text transform="translate(2964.36,768.9) scale(1.2125,1)" font-size="64" font-weight="normal" fill="#2d1e0f" stroke="#2d1e0f" stroke-width="0.5" letter-spacing="2.0"><tspan font-size="48.00" stroke-width="1.3">1</tspan><tspan font-size="48.00" stroke-width="1.3">0</tspan><tspan font-size="48.00" stroke-width="1.3">0</tspan></text>
<text transform="translate(3083.10,768.9) scale(0.9489,1)" font-size="64" font-weight="normal" fill="#2d1e0f" stroke="#2d1e0f" stroke-width="0.5">m</text>
<text transform="translate(3005.45,1271.9) scale(1.0182,1)" font-size="64" font-weight="normal" fill="#2d1e0f" stroke="#2d1e0f" stroke-width="0.5"><tspan font-size="48.00" stroke-width="1.3">1</tspan></text>
<text transform="translate(3049.96,1271.9) scale(0.9595,1)" font-size="64" font-weight="normal" fill="#2d1e0f" stroke="#2d1e0f" stroke-width="0.5" letter-spacing="2.0">km</text>
<text transform="translate(2999.17,1839.1) scale(1.2174,1)" font-size="64" font-weight="normal" fill="#2d1e0f" stroke="#2d1e0f" stroke-width="0.5"><tspan font-size="48.00" stroke-width="1.3">2</tspan></text>
<text transform="translate(3049.96,1839.1) scale(0.9595,1)" font-size="64" font-weight="normal" fill="#2d1e0f" stroke="#2d1e0f" stroke-width="0.5" letter-spacing="2.0">km</text>
<text transform="translate(3000.21,2406) scale(0.9452,1)" font-size="64" font-weight="normal" fill="#2d1e0f" stroke="#2d1e0f" stroke-width="0.5"><tspan dy="11.91">3</tspan><tspan dy="-11.91">&#8203;</tspan></text>
<text transform="translate(3048.99,2406) scale(0.9785,1)" font-size="64" font-weight="normal" fill="#2d1e0f" stroke="#2d1e0f" stroke-width="0.5" letter-spacing="2.0">km</text>
<text transform="translate(2947.48,2691.7) scale(0.9090,1)" font-size="64" font-weight="normal" fill="#2d1e0f" stroke="#2d1e0f" stroke-width="0.5" letter-spacing="2.0"><tspan dy="11.91">3</tspan><tspan dy="-11.91">&#8203;</tspan>,<tspan dy="11.91">5</tspan><tspan dy="-11.91">&#8203;</tspan></text>
<text transform="translate(3048.99,2691.7) scale(0.9785,1)" font-size="64" font-weight="normal" fill="#2d1e0f" stroke="#2d1e0f" stroke-width="0.5" letter-spacing="2.0">km</text>
<text transform="translate(1516.68,3142.2) scale(0.9212,1)" font-size="64" font-weight="normal" fill="#2d1e0f" stroke="#2d1e0f" stroke-width="0.5"><tspan dy="2">4</tspan><tspan dy="-2">&#8203;</tspan></text>
<text transform="translate(1566.40,3142.2) scale(0.9506,1)" font-size="64" font-weight="normal" fill="#2d1e0f" stroke="#2d1e0f" stroke-width="0.5" letter-spacing="2.0">km</text>
<text transform="translate(480.29,2689.3) scale(1.0029,1)" font-size="60" font-weight="normal" fill="#fff" stroke="#fff" stroke-width="1.6" stroke-linejoin="round" letter-spacing="2.6">Entnahmepunkt</text>
<text transform="translate(1906.58,2292.1) scale(0.9809,1)" font-size="60" font-weight="normal" fill="#fff" stroke="#fff" stroke-width="1.6" stroke-linejoin="round" letter-spacing="2.6">Rückgabepunkt</text>
<text transform="translate(1048.01,2491.8) scale(0.9863,1)" font-size="60" font-weight="normal" fill="#fff" stroke="#fff" stroke-width="1.6" stroke-linejoin="round" letter-spacing="2.6">Thermalwasservorkommen</text></svg>
</body></html>
